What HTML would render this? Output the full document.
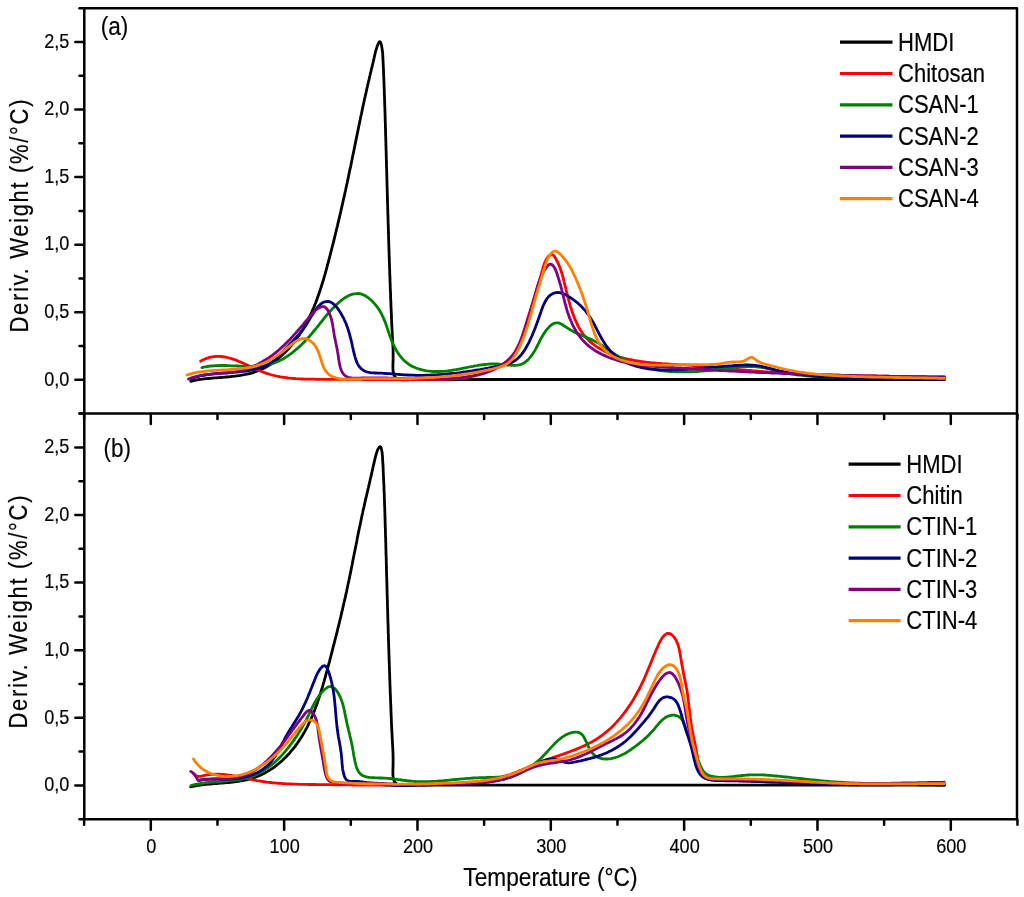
<!DOCTYPE html>
<html><head><meta charset="utf-8"><title>DTG curves</title>
<style>html,body{margin:0;padding:0;background:#fff;}svg{display:block;}text{font-family:"Liberation Sans",sans-serif;}</style>
</head><body>
<svg width="1024" height="897" viewBox="0 0 1024 897" font-family="Liberation Sans, sans-serif" fill="#000">
<rect width="1024" height="897" fill="#fff"/>
<path d="M190.8,381.3 L192.6,380.8 L194.5,380.4 L196.4,380.1 L198.3,379.7 L200.2,379.4 L202.1,379.2 L204.1,378.9 L206.0,378.7 L208.0,378.5 L210.0,378.3 L212.0,378.1 L214.1,377.9 L216.1,377.8 L218.1,377.6 L220.2,377.5 L222.2,377.3 L224.3,377.2 L226.3,377.0 L228.4,376.8 L230.4,376.6 L232.5,376.4 L234.5,376.2 L236.6,375.9 L238.6,375.7 L240.6,375.4 L242.6,375.0 L244.6,374.6 L246.6,374.2 L248.5,373.8 L250.5,373.3 L252.4,372.8 L254.3,372.2 L256.1,371.5 L258.0,370.8 L259.8,370.1 L261.6,369.3 L263.4,368.4 L265.2,367.5 L266.9,366.5 L268.6,365.5 L270.3,364.5 L271.9,363.4 L273.5,362.3 L275.1,361.1 L276.7,359.9 L278.3,358.6 L279.8,357.3 L281.3,356.0 L282.8,354.6 L284.2,353.3 L285.6,351.8 L287.0,350.4 L288.4,348.9 L289.7,347.4 L291.0,345.9 L292.3,344.4 L293.5,342.8 L294.7,341.2 L295.9,339.6 L297.1,338.0 L298.2,336.4 L299.4,334.8 L300.4,333.1 L301.5,331.4 L302.6,329.8 L303.6,328.1 L304.6,326.3 L305.5,324.6 L306.5,322.9 L307.4,321.1 L308.3,319.3 L309.2,317.6 L310.0,315.8 L310.9,314.0 L311.7,312.2 L312.5,310.3 L313.3,308.5 L314.1,306.7 L314.8,304.8 L315.6,303.0 L316.3,301.1 L317.0,299.2 L317.7,297.3 L318.3,295.4 L319.0,293.5 L319.7,291.6 L320.3,289.7 L320.9,287.8 L321.5,285.9 L322.1,284.0 L322.7,282.0 L323.3,280.1 L323.9,278.2 L324.4,276.2 L325.0,274.3 L325.5,272.3 L326.1,270.4 L326.6,268.4 L327.1,266.5 L327.7,264.5 L328.2,262.6 L328.7,260.6 L329.2,258.7 L329.7,256.7 L330.2,254.8 L330.7,252.8 L331.2,250.9 L331.7,248.9 L332.2,247.0 L332.7,245.0 L333.2,243.1 L333.7,241.1 L334.2,239.2 L334.6,237.2 L335.1,235.3 L335.6,233.4 L336.1,231.4 L336.5,229.5 L337.0,227.5 L337.5,225.6 L337.9,223.6 L338.4,221.7 L338.8,219.8 L339.3,217.8 L339.8,215.9 L340.2,213.9 L340.7,212.0 L341.1,210.1 L341.5,208.1 L342.0,206.2 L342.4,204.2 L342.9,202.3 L343.3,200.3 L343.7,198.4 L344.2,196.4 L344.6,194.5 L345.0,192.5 L345.5,190.6 L345.9,188.6 L346.3,186.7 L346.7,184.7 L347.2,182.8 L347.6,180.8 L348.0,178.9 L348.4,176.9 L348.8,175.0 L349.2,173.0 L349.6,171.1 L350.0,169.1 L350.5,167.1 L350.9,165.2 L351.3,163.2 L351.7,161.2 L352.1,159.3 L352.5,157.3 L352.9,155.3 L353.3,153.4 L353.7,151.4 L354.1,149.4 L354.5,147.5 L354.9,145.5 L355.3,143.5 L355.7,141.6 L356.1,139.6 L356.5,137.6 L356.9,135.7 L357.3,133.7 L357.7,131.7 L358.1,129.7 L358.5,127.8 L358.9,125.8 L359.3,123.8 L359.7,121.9 L360.1,119.9 L360.5,117.9 L360.9,116.0 L361.4,114.0 L361.8,112.0 L362.2,110.1 L362.6,108.1 L363.0,106.1 L363.5,104.2 L363.9,102.2 L364.3,100.3 L364.7,98.3 L365.2,96.3 L365.6,94.4 L366.1,92.4 L366.5,90.5 L366.9,88.5 L367.4,86.6 L367.8,84.6 L368.3,82.7 L368.7,80.8 L369.2,78.8 L369.6,76.9 L370.1,75.0 L370.5,73.0 L371.0,71.1 L371.4,69.2 L371.9,67.3 L372.4,65.4 L372.8,63.5 L373.3,61.5 L373.7,59.6 L374.2,57.6 L374.6,55.6 L375.1,53.5 L375.6,51.3 L376.3,49.1 L377.1,46.6 L378.0,44.3 L378.9,42.4 L379.8,41.6 L380.5,42.2 L381.1,43.9 L381.6,45.8 L381.9,47.8 L382.2,49.8 L382.5,51.8 L382.7,53.8 L382.8,55.9 L382.9,57.9 L383.0,59.9 L383.1,62.0 L383.2,64.0 L383.3,66.1 L383.4,68.1 L383.5,70.1 L383.6,72.2 L383.6,74.2 L383.7,76.2 L383.8,78.2 L383.9,80.3 L384.0,82.3 L384.0,84.3 L384.1,86.3 L384.2,88.3 L384.3,90.4 L384.3,92.4 L384.4,94.4 L384.5,96.4 L384.5,98.4 L384.6,100.4 L384.7,102.4 L384.7,104.4 L384.8,106.5 L384.9,108.5 L384.9,110.5 L385.0,112.5 L385.1,114.5 L385.1,116.5 L385.2,118.5 L385.2,120.5 L385.3,122.5 L385.4,124.5 L385.4,126.5 L385.5,128.5 L385.5,130.5 L385.6,132.5 L385.6,134.5 L385.7,136.5 L385.8,138.5 L385.8,140.5 L385.9,142.5 L385.9,144.5 L386.0,146.5 L386.0,148.5 L386.1,150.5 L386.2,152.5 L386.2,154.5 L386.3,156.5 L386.3,158.4 L386.4,160.4 L386.4,162.4 L386.5,164.4 L386.5,166.4 L386.6,168.4 L386.7,170.4 L386.7,172.4 L386.8,174.4 L386.8,176.4 L386.9,178.4 L386.9,180.4 L387.0,182.4 L387.0,184.4 L387.1,186.4 L387.2,188.4 L387.2,190.4 L387.3,192.4 L387.3,194.4 L387.4,196.4 L387.4,198.4 L387.5,200.4 L387.5,202.4 L387.6,204.4 L387.7,206.4 L387.7,208.4 L387.8,210.4 L387.8,212.4 L387.9,214.4 L388.0,216.4 L388.0,218.4 L388.1,220.4 L388.1,222.4 L388.2,224.4 L388.3,226.4 L388.3,228.4 L388.4,230.4 L388.4,232.4 L388.5,234.5 L388.6,236.5 L388.6,238.5 L388.7,240.5 L388.7,242.5 L388.8,244.5 L388.9,246.5 L388.9,248.5 L389.0,250.5 L389.1,252.5 L389.1,254.5 L389.2,256.5 L389.3,258.5 L389.3,260.5 L389.4,262.5 L389.5,264.6 L389.5,266.6 L389.6,268.6 L389.7,270.6 L389.7,272.6 L389.8,274.6 L389.9,276.6 L390.0,278.6 L390.0,280.6 L390.1,282.7 L390.2,284.7 L390.2,286.7 L390.3,288.7 L390.4,290.7 L390.5,292.7 L390.6,294.7 L390.6,296.8 L390.7,298.8 L390.8,300.8 L390.9,302.8 L390.9,304.8 L391.0,306.8 L391.1,308.8 L391.2,310.9 L391.3,312.9 L391.4,314.9 L391.4,316.9 L391.5,318.9 L391.6,320.8 L391.7,322.8 L391.8,324.8 L391.9,326.8 L392.0,328.7 L392.1,330.7 L392.2,332.6 L392.3,334.6 L392.4,336.5 L392.5,338.4 L392.6,340.3 L392.7,342.2 L392.8,344.1 L392.9,346.0 L393.0,347.9 L393.1,349.8 L393.1,351.8 L393.1,353.8 L393.1,355.9 L393.1,358.1 L393.1,360.3 L393.0,362.6 L392.9,364.9 L392.9,367.2 L393.0,369.4 L393.1,371.5 L393.5,373.4 L394.1,375.2 L394.9,376.7 L396.0,377.9 L397.4,378.7 L399.1,379.3 L400.9,379.6 L403.0,379.8 L405.1,379.8 L407.3,379.8 L409.5,379.7 L411.6,379.6 L413.7,379.5 L415.7,379.5 L417.7,379.5 L419.7,379.5 L421.6,379.5 L423.6,379.5 L425.6,379.5 L427.5,379.5 L429.5,379.5 L431.5,379.5 L433.5,379.5 L435.5,379.5 L437.5,379.5 L439.5,379.5 L441.5,379.5 L443.6,379.5 L445.6,379.5 L447.6,379.5 L449.6,379.5 L451.6,379.5 L453.6,379.5 L455.6,379.5 L457.6,379.5 L459.6,379.5 L461.6,379.5 L463.6,379.5 L465.6,379.5 L467.6,379.5 L469.6,379.5 L471.6,379.5 L473.6,379.5 L475.6,379.5 L477.6,379.5 L479.6,379.5 L481.6,379.5 L483.7,379.5 L485.7,379.5 L487.7,379.5 L489.7,379.5 L491.7,379.5 L493.7,379.5 L495.7,379.5 L497.7,379.5 L499.7,379.5 L501.7,379.5 L503.7,379.5 L505.7,379.5 L507.7,379.5 L509.7,379.5 L511.7,379.5 L513.7,379.5 L515.7,379.5 L517.7,379.5 L519.7,379.5 L521.7,379.5 L523.7,379.5 L525.7,379.5 L527.7,379.5 L529.7,379.5 L531.7,379.5 L533.7,379.5 L535.7,379.5 L537.7,379.5 L539.7,379.5 L541.7,379.5 L543.7,379.5 L545.8,379.5 L547.8,379.5 L549.8,379.5 L551.8,379.5 L553.8,379.5 L555.8,379.5 L557.8,379.5 L559.8,379.5 L561.8,379.5 L563.8,379.5 L565.8,379.5 L567.8,379.5 L569.8,379.5 L571.8,379.5 L573.8,379.5 L575.8,379.5 L577.8,379.5 L579.8,379.5 L581.8,379.5 L583.8,379.5 L585.8,379.5 L587.8,379.5 L589.8,379.5 L591.8,379.5 L593.8,379.5 L595.8,379.5 L597.8,379.5 L599.9,379.5 L601.9,379.5 L603.9,379.5 L605.9,379.5 L607.9,379.5 L609.9,379.5 L611.9,379.5 L613.9,379.5 L615.9,379.5 L617.9,379.5 L619.9,379.5 L621.9,379.5 L623.9,379.5 L625.9,379.5 L627.9,379.5 L629.9,379.5 L631.9,379.5 L633.9,379.5 L635.9,379.5 L637.9,379.5 L639.9,379.5 L641.9,379.5 L643.9,379.5 L645.9,379.5 L647.9,379.5 L650.0,379.5 L652.0,379.5 L654.0,379.5 L656.0,379.5 L658.0,379.5 L660.0,379.5 L662.0,379.5 L664.0,379.5 L666.0,379.5 L668.0,379.5 L670.0,379.5 L672.0,379.5 L674.0,379.5 L676.0,379.5 L678.0,379.5 L680.0,379.5 L682.0,379.5 L684.0,379.5 L686.0,379.5 L688.0,379.5 L690.0,379.5 L692.0,379.5 L694.0,379.5 L696.0,379.5 L698.0,379.5 L700.0,379.5 L702.1,379.5 L704.1,379.5 L706.1,379.5 L708.1,379.5 L710.1,379.5 L712.1,379.5 L714.1,379.5 L716.1,379.5 L718.1,379.5 L720.1,379.5 L722.1,379.5 L724.1,379.5 L726.1,379.5 L728.1,379.5 L730.1,379.5 L732.1,379.5 L734.1,379.5 L736.1,379.5 L738.1,379.5 L740.1,379.5 L742.1,379.5 L744.1,379.5 L746.1,379.5 L748.1,379.5 L750.1,379.5 L752.1,379.5 L754.1,379.5 L756.1,379.5 L758.2,379.5 L760.2,379.5 L762.2,379.5 L764.2,379.5 L766.2,379.5 L768.2,379.5 L770.2,379.5 L772.2,379.5 L774.2,379.5 L776.2,379.5 L778.2,379.5 L780.2,379.5 L782.2,379.5 L784.2,379.5 L786.2,379.5 L788.2,379.5 L790.2,379.5 L792.2,379.5 L794.2,379.5 L796.2,379.5 L798.2,379.5 L800.2,379.5 L802.2,379.5 L804.2,379.5 L806.2,379.5 L808.2,379.5 L810.2,379.5 L812.3,379.5 L814.3,379.5 L816.3,379.5 L818.3,379.5 L820.3,379.5 L822.3,379.5 L824.3,379.5 L826.3,379.5 L828.3,379.5 L830.3,379.5 L832.3,379.5 L834.3,379.5 L836.3,379.5 L838.3,379.5 L840.3,379.5 L842.3,379.5 L844.3,379.5 L846.3,379.5 L848.3,379.5 L850.3,379.5 L852.3,379.5 L854.3,379.5 L856.3,379.5 L858.3,379.5 L860.3,379.5 L862.3,379.5 L864.3,379.5 L866.4,379.5 L868.4,379.5 L870.4,379.5 L872.4,379.5 L874.4,379.5 L876.4,379.5 L878.4,379.5 L880.4,379.5 L882.4,379.5 L884.4,379.5 L886.4,379.5 L888.4,379.5 L890.4,379.5 L892.4,379.5 L894.4,379.5 L896.4,379.5 L898.4,379.5 L900.4,379.5 L902.4,379.5 L904.4,379.5 L906.4,379.5 L908.4,379.5 L910.4,379.5 L912.4,379.5 L914.4,379.5 L916.4,379.5 L918.5,379.5 L920.5,379.5 L922.5,379.5 L924.5,379.5 L926.5,379.5 L928.5,379.5 L930.5,379.5 L932.5,379.5 L934.5,379.5 L936.5,379.5 L938.5,379.5 L940.5,379.5 L942.5,379.5 L944.5,379.5" fill="none" stroke="#000000" stroke-width="2.8" stroke-linejoin="round" stroke-linecap="round"/>
<path d="M200.6,361.2 L202.6,360.1 L204.5,359.2 L206.5,358.4 L208.4,357.8 L210.3,357.2 L212.2,356.8 L214.1,356.6 L216.0,356.4 L217.9,356.4 L219.8,356.4 L221.7,356.5 L223.5,356.8 L225.4,357.1 L227.3,357.5 L229.1,358.0 L231.0,358.5 L232.8,359.1 L234.7,359.7 L236.5,360.4 L238.4,361.2 L240.2,361.9 L242.1,362.7 L243.9,363.6 L245.8,364.4 L247.6,365.3 L249.5,366.2 L251.4,367.0 L253.2,367.9 L255.1,368.8 L257.0,369.6 L258.9,370.4 L260.7,371.2 L262.6,371.9 L264.5,372.7 L266.5,373.3 L268.4,373.9 L270.3,374.5 L272.2,375.0 L274.2,375.5 L276.1,376.0 L278.1,376.4 L280.0,376.8 L282.0,377.1 L284.0,377.4 L286.0,377.7 L287.9,378.0 L289.9,378.2 L291.9,378.4 L293.9,378.5 L295.9,378.7 L297.9,378.8 L299.9,378.9 L301.9,379.0 L304.0,379.1 L306.0,379.1 L308.0,379.2 L310.0,379.2 L312.0,379.2 L314.0,379.2 L316.0,379.3 L318.1,379.3 L320.1,379.3 L322.1,379.3 L324.1,379.3 L326.1,379.3 L328.1,379.3 L330.2,379.3 L332.2,379.3 L334.2,379.3 L336.2,379.3 L338.2,379.3 L340.2,379.3 L342.2,379.3 L344.2,379.4 L346.2,379.4 L348.2,379.4 L350.2,379.4 L352.3,379.4 L354.3,379.4 L356.3,379.4 L358.3,379.4 L360.3,379.4 L362.3,379.5 L364.3,379.5 L366.3,379.5 L368.3,379.5 L370.3,379.5 L372.3,379.5 L374.3,379.5 L376.3,379.5 L378.3,379.6 L380.3,379.6 L382.3,379.6 L384.3,379.6 L386.3,379.6 L388.3,379.6 L390.3,379.6 L392.3,379.6 L394.4,379.6 L396.4,379.6 L398.4,379.7 L400.4,379.7 L402.4,379.7 L404.4,379.7 L406.4,379.7 L408.4,379.7 L410.4,379.7 L412.4,379.7 L414.4,379.7 L416.5,379.7 L418.5,379.7 L420.5,379.7 L422.5,379.7 L424.5,379.7 L426.5,379.7 L428.6,379.7 L430.6,379.7 L432.6,379.7 L434.6,379.6 L436.6,379.6 L438.7,379.6 L440.7,379.5 L442.7,379.5 L444.7,379.4 L446.7,379.3 L448.7,379.2 L450.8,379.1 L452.8,379.0 L454.8,378.8 L456.8,378.7 L458.8,378.5 L460.8,378.3 L462.7,378.0 L464.7,377.8 L466.7,377.5 L468.7,377.1 L470.6,376.8 L472.6,376.4 L474.5,376.0 L476.5,375.5 L478.4,375.0 L480.3,374.5 L482.3,373.9 L484.2,373.3 L486.1,372.6 L488.0,371.9 L489.8,371.2 L491.7,370.4 L493.5,369.5 L495.3,368.6 L497.1,367.7 L498.8,366.7 L500.6,365.7 L502.2,364.6 L503.8,363.4 L505.4,362.2 L506.9,361.0 L508.4,359.7 L509.8,358.3 L511.1,356.9 L512.4,355.4 L513.6,353.8 L514.7,352.2 L515.7,350.5 L516.7,348.8 L517.7,347.0 L518.6,345.2 L519.4,343.3 L520.2,341.5 L520.9,339.6 L521.6,337.6 L522.3,335.7 L523.0,333.7 L523.6,331.7 L524.3,329.8 L524.9,327.8 L525.5,325.8 L526.1,323.9 L526.7,321.9 L527.3,320.0 L527.9,318.1 L528.5,316.2 L529.1,314.2 L529.7,312.3 L530.3,310.4 L530.9,308.5 L531.5,306.6 L532.0,304.7 L532.6,302.9 L533.2,301.0 L533.8,299.1 L534.4,297.2 L534.9,295.3 L535.5,293.4 L536.1,291.5 L536.7,289.6 L537.2,287.7 L537.8,285.8 L538.4,283.9 L539.0,282.0 L539.5,280.0 L540.1,278.1 L540.7,276.1 L541.2,274.2 L541.8,272.2 L542.4,270.2 L542.9,268.2 L543.5,266.2 L544.1,264.3 L544.9,262.3 L545.7,260.5 L546.7,258.7 L547.9,257.0 L549.3,255.6 L550.8,254.6 L552.3,254.5 L553.6,255.5 L554.9,257.1 L556.0,259.1 L557.0,261.1 L558.0,263.0 L558.8,264.9 L559.6,266.7 L560.3,268.6 L560.9,270.4 L561.5,272.2 L562.1,274.1 L562.6,275.9 L563.1,277.7 L563.6,279.6 L564.0,281.5 L564.5,283.4 L565.0,285.3 L565.5,287.3 L565.9,289.3 L566.4,291.2 L566.9,293.2 L567.4,295.2 L567.9,297.2 L568.5,299.3 L569.0,301.3 L569.6,303.3 L570.1,305.3 L570.7,307.3 L571.4,309.3 L572.0,311.2 L572.7,313.2 L573.4,315.1 L574.1,317.1 L574.9,319.0 L575.7,320.8 L576.5,322.7 L577.4,324.5 L578.3,326.3 L579.2,328.0 L580.2,329.7 L581.3,331.3 L582.4,333.0 L583.5,334.5 L584.7,336.0 L586.0,337.5 L587.3,338.9 L588.6,340.3 L590.0,341.6 L591.5,342.8 L593.0,344.0 L594.5,345.2 L596.1,346.3 L597.7,347.4 L599.4,348.4 L601.1,349.4 L602.8,350.3 L604.6,351.2 L606.4,352.1 L608.2,352.9 L610.1,353.6 L611.9,354.4 L613.8,355.1 L615.8,355.7 L617.7,356.4 L619.7,357.0 L621.6,357.5 L623.6,358.1 L625.6,358.6 L627.6,359.0 L629.6,359.5 L631.7,359.9 L633.7,360.3 L635.7,360.7 L637.8,361.0 L639.8,361.3 L641.8,361.6 L643.8,361.9 L645.8,362.2 L647.8,362.4 L649.9,362.6 L651.9,362.8 L653.9,363.0 L655.9,363.2 L657.9,363.4 L659.8,363.5 L661.8,363.7 L663.8,363.8 L665.8,363.9 L667.8,364.0 L669.8,364.1 L671.8,364.3 L673.8,364.4 L675.7,364.5 L677.7,364.6 L679.7,364.7 L681.7,364.8 L683.7,364.9 L685.7,365.0 L687.6,365.1 L689.6,365.2 L691.6,365.3 L693.6,365.5 L695.6,365.6 L697.6,365.8 L699.6,365.9 L701.6,366.1 L703.6,366.2 L705.6,366.4 L707.6,366.6 L709.6,366.7 L711.6,366.9 L713.6,367.1 L715.6,367.3 L717.6,367.5 L719.6,367.7 L721.6,367.9 L723.6,368.1 L725.6,368.3 L727.6,368.5 L729.6,368.7 L731.6,368.9 L733.6,369.1 L735.6,369.2 L737.6,369.4 L739.6,369.6 L741.6,369.8 L743.7,370.0 L745.7,370.2 L747.7,370.4 L749.7,370.5 L751.7,370.7 L753.7,370.9 L755.7,371.0 L757.7,371.2 L759.7,371.4 L761.7,371.5 L763.7,371.7 L765.7,371.8 L767.7,371.9 L769.7,372.1 L771.8,372.2 L773.8,372.4 L775.8,372.5 L777.8,372.6 L779.8,372.7 L781.8,372.9 L783.8,373.0 L785.8,373.1 L787.8,373.2 L789.8,373.3 L791.8,373.4 L793.8,373.5 L795.8,373.6 L797.8,373.7 L799.8,373.8 L801.8,373.9 L803.9,374.0 L805.9,374.1 L807.9,374.2 L809.9,374.3 L811.9,374.4 L813.9,374.4 L815.9,374.5 L817.9,374.6 L819.9,374.7 L821.9,374.7 L823.9,374.8 L825.9,374.9 L827.9,374.9 L829.9,375.0 L831.9,375.1 L833.9,375.1 L835.9,375.2 L837.9,375.2 L840.0,375.3 L842.0,375.3 L844.0,375.4 L846.0,375.4 L848.0,375.5 L850.0,375.5 L852.0,375.6 L854.0,375.6 L856.0,375.7 L858.0,375.7 L860.0,375.8 L862.0,375.8 L864.0,375.8 L866.0,375.9 L868.0,375.9 L870.1,376.0 L872.1,376.0 L874.1,376.0 L876.1,376.1 L878.1,376.1 L880.1,376.1 L882.1,376.2 L884.1,376.2 L886.1,376.2 L888.1,376.2 L890.1,376.3 L892.1,376.3 L894.2,376.3 L896.2,376.4 L898.2,376.4 L900.2,376.4 L902.2,376.4 L904.2,376.5 L906.2,376.5 L908.2,376.5 L910.2,376.5 L912.2,376.6 L914.3,376.6 L916.3,376.6 L918.3,376.7 L920.3,376.7 L922.3,376.7 L924.3,376.7 L926.3,376.8 L928.3,376.8 L930.3,376.8 L932.4,376.8 L934.4,376.9 L936.4,376.9 L938.4,376.9 L940.4,377.0 L942.4,377.0 L944.4,377.0" fill="none" stroke="#ff0000" stroke-width="2.8" stroke-linejoin="round" stroke-linecap="round"/>
<path d="M201.9,367.6 L203.8,367.2 L205.7,366.8 L207.6,366.5 L209.5,366.2 L211.5,366.0 L213.4,365.8 L215.4,365.6 L217.4,365.6 L219.4,365.5 L221.4,365.5 L223.4,365.5 L225.4,365.5 L227.5,365.6 L229.5,365.7 L231.5,365.8 L233.6,365.8 L235.6,365.9 L237.6,366.0 L239.7,366.1 L241.7,366.2 L243.7,366.3 L245.8,366.4 L247.8,366.4 L249.8,366.4 L251.8,366.4 L253.8,366.4 L255.8,366.3 L257.8,366.2 L259.7,366.0 L261.7,365.8 L263.6,365.6 L265.6,365.3 L267.5,364.9 L269.4,364.4 L271.2,363.9 L273.1,363.4 L274.9,362.7 L276.7,362.0 L278.5,361.2 L280.3,360.3 L282.1,359.4 L283.8,358.5 L285.5,357.4 L287.2,356.3 L288.9,355.2 L290.5,354.0 L292.1,352.8 L293.7,351.5 L295.3,350.2 L296.9,348.9 L298.4,347.5 L300.0,346.1 L301.4,344.7 L302.9,343.2 L304.4,341.7 L305.8,340.2 L307.2,338.7 L308.6,337.2 L310.0,335.7 L311.3,334.1 L312.6,332.6 L313.9,331.0 L315.2,329.5 L316.4,328.0 L317.7,326.4 L318.9,324.9 L320.1,323.4 L321.3,321.9 L322.5,320.3 L323.7,318.8 L324.9,317.3 L326.1,315.8 L327.4,314.3 L328.7,312.8 L330.0,311.4 L331.3,309.9 L332.7,308.4 L334.2,306.9 L335.6,305.5 L337.2,304.0 L338.7,302.6 L340.4,301.2 L342.0,299.9 L343.7,298.7 L345.4,297.5 L347.2,296.5 L349.0,295.6 L350.7,294.8 L352.6,294.2 L354.4,293.8 L356.2,293.6 L358.0,293.5 L359.9,293.7 L361.7,294.2 L363.5,294.9 L365.3,295.8 L367.0,296.9 L368.8,298.2 L370.4,299.6 L372.0,301.1 L373.5,302.6 L374.9,304.1 L376.2,305.7 L377.4,307.3 L378.6,309.0 L379.6,310.6 L380.6,312.3 L381.6,314.0 L382.4,315.8 L383.3,317.6 L384.0,319.4 L384.8,321.2 L385.5,323.1 L386.2,325.0 L386.8,326.9 L387.5,328.8 L388.1,330.8 L388.8,332.7 L389.4,334.6 L390.1,336.6 L390.8,338.5 L391.5,340.4 L392.3,342.3 L393.1,344.1 L394.0,345.9 L394.9,347.7 L395.8,349.5 L396.9,351.2 L397.9,352.9 L399.0,354.5 L400.2,356.1 L401.5,357.6 L402.8,359.1 L404.1,360.5 L405.6,361.8 L407.1,363.0 L408.6,364.1 L410.2,365.2 L411.9,366.2 L413.7,367.0 L415.5,367.8 L417.4,368.5 L419.3,369.1 L421.3,369.7 L423.3,370.2 L425.3,370.6 L427.3,370.9 L429.4,371.1 L431.4,371.3 L433.5,371.5 L435.6,371.5 L437.6,371.5 L439.7,371.5 L441.7,371.4 L443.8,371.3 L445.8,371.1 L447.8,370.9 L449.8,370.6 L451.7,370.3 L453.7,370.0 L455.7,369.7 L457.6,369.3 L459.6,369.0 L461.5,368.6 L463.5,368.2 L465.4,367.8 L467.4,367.4 L469.3,367.0 L471.2,366.6 L473.2,366.3 L475.1,365.9 L477.1,365.6 L479.0,365.2 L481.0,365.0 L483.0,364.7 L484.9,364.5 L486.9,364.3 L488.9,364.1 L490.9,364.0 L492.9,364.0 L494.9,364.0 L497.0,364.0 L499.0,364.1 L501.1,364.3 L503.1,364.5 L505.2,364.8 L507.3,365.0 L509.3,365.2 L511.4,365.4 L513.4,365.4 L515.3,365.4 L517.2,365.2 L519.1,364.9 L520.9,364.4 L522.6,363.7 L524.3,362.8 L525.8,361.6 L527.3,360.4 L528.8,358.9 L530.1,357.4 L531.4,355.7 L532.6,354.0 L533.8,352.2 L534.9,350.4 L535.9,348.6 L536.8,346.8 L537.7,345.0 L538.6,343.3 L539.5,341.5 L540.4,339.7 L541.3,338.0 L542.3,336.3 L543.3,334.5 L544.4,332.9 L545.5,331.2 L546.8,329.5 L548.3,327.9 L549.8,326.3 L551.4,324.9 L553.1,323.8 L554.8,323.1 L556.6,322.8 L558.3,322.9 L560.0,323.4 L561.7,324.3 L563.4,325.3 L565.1,326.5 L566.9,327.7 L568.6,328.8 L570.4,329.9 L572.2,330.9 L574.0,331.9 L575.8,332.8 L577.6,333.6 L579.4,334.4 L581.2,335.2 L583.1,336.0 L584.9,336.8 L586.7,337.5 L588.5,338.3 L590.3,339.1 L592.1,339.9 L593.8,340.8 L595.6,341.7 L597.3,342.6 L599.1,343.6 L600.8,344.7 L602.5,345.8 L604.1,346.9 L605.8,348.0 L607.5,349.1 L609.2,350.3 L610.8,351.5 L612.5,352.6 L614.2,353.8 L615.9,354.9 L617.6,356.0 L619.3,357.1 L621.0,358.1 L622.8,359.1 L624.5,360.0 L626.3,360.9 L628.1,361.8 L629.9,362.6 L631.8,363.4 L633.6,364.1 L635.5,364.8 L637.3,365.5 L639.2,366.1 L641.1,366.6 L643.0,367.2 L645.0,367.7 L646.9,368.1 L648.9,368.6 L650.8,369.0 L652.8,369.4 L654.7,369.7 L656.7,370.0 L658.7,370.3 L660.7,370.6 L662.7,370.8 L664.7,371.0 L666.7,371.2 L668.7,371.4 L670.7,371.5 L672.7,371.6 L674.7,371.7 L676.7,371.8 L678.7,371.9 L680.7,371.9 L682.7,371.9 L684.7,371.9 L686.7,371.9 L688.8,371.8 L690.8,371.8 L692.8,371.7 L694.8,371.6 L696.8,371.5 L698.8,371.4 L700.8,371.2 L702.8,371.1 L704.8,370.9 L706.8,370.7 L708.8,370.5 L710.8,370.3 L712.8,370.0 L714.8,369.8 L716.8,369.5 L718.8,369.3 L720.8,369.0 L722.8,368.7 L724.8,368.5 L726.8,368.2 L728.7,367.9 L730.7,367.7 L732.7,367.5 L734.7,367.3 L736.7,367.1 L738.7,366.9 L740.7,366.8 L742.7,366.6 L744.7,366.6 L746.7,366.5 L748.7,366.5 L750.7,366.5 L752.6,366.6 L754.6,366.7 L756.6,366.9 L758.6,367.0 L760.6,367.3 L762.6,367.6 L764.6,367.9 L766.5,368.3 L768.5,368.7 L770.4,369.1 L772.4,369.6 L774.4,370.1 L776.3,370.6 L778.3,371.1 L780.2,371.6 L782.2,372.0 L784.1,372.5 L786.1,373.0 L788.1,373.4 L790.0,373.8 L792.0,374.1 L794.0,374.4 L796.0,374.7 L798.0,375.0 L799.9,375.2 L801.9,375.4 L803.9,375.6 L805.9,375.8 L807.9,376.0 L809.9,376.1 L811.9,376.3 L813.9,376.4 L815.9,376.5 L817.9,376.7 L820.0,376.8 L822.0,376.9 L824.0,377.0 L826.0,377.1 L828.0,377.2 L830.0,377.2 L832.0,377.3 L834.0,377.4 L836.0,377.5 L838.0,377.5 L840.0,377.6 L842.0,377.6 L844.0,377.7 L846.0,377.7 L848.0,377.8 L850.0,377.8 L852.0,377.9 L854.1,377.9 L856.1,377.9 L858.1,378.0 L860.1,378.0 L862.1,378.0 L864.1,378.1 L866.1,378.1 L868.1,378.1 L870.1,378.1 L872.1,378.2 L874.1,378.2 L876.1,378.2 L878.1,378.2 L880.2,378.2 L882.2,378.3 L884.2,378.3 L886.2,378.3 L888.2,378.3 L890.2,378.3 L892.2,378.3 L894.2,378.3 L896.2,378.4 L898.2,378.4 L900.2,378.4 L902.2,378.4 L904.2,378.4 L906.3,378.4 L908.3,378.4 L910.3,378.4 L912.3,378.5 L914.3,378.5 L916.3,378.5 L918.3,378.5 L920.3,378.5 L922.3,378.5 L924.3,378.6 L926.3,378.6 L928.3,378.6 L930.3,378.6 L932.4,378.7 L934.4,378.7 L936.4,378.7 L938.4,378.7 L940.4,378.8 L942.4,378.8 L944.4,378.9" fill="none" stroke="#008000" stroke-width="2.8" stroke-linejoin="round" stroke-linecap="round"/>
<path d="M189.9,379.1 L191.8,378.4 L193.7,377.8 L195.6,377.2 L197.5,376.6 L199.5,376.1 L201.4,375.7 L203.4,375.3 L205.3,375.0 L207.3,374.6 L209.2,374.4 L211.2,374.1 L213.2,373.9 L215.2,373.7 L217.2,373.5 L219.2,373.3 L221.2,373.2 L223.2,373.0 L225.2,372.9 L227.2,372.8 L229.2,372.6 L231.2,372.5 L233.2,372.3 L235.2,372.2 L237.2,372.0 L239.2,371.8 L241.2,371.6 L243.2,371.4 L245.2,371.1 L247.2,370.8 L249.2,370.5 L251.1,370.1 L253.1,369.7 L255.1,369.2 L257.1,368.7 L259.0,368.1 L261.0,367.5 L262.9,366.8 L264.7,366.0 L266.6,365.2 L268.3,364.3 L270.1,363.3 L271.7,362.2 L273.3,361.0 L274.9,359.8 L276.3,358.5 L277.8,357.1 L279.1,355.7 L280.5,354.2 L281.9,352.7 L283.2,351.2 L284.5,349.7 L285.9,348.2 L287.3,346.7 L288.7,345.3 L290.1,343.8 L291.5,342.4 L292.9,340.9 L294.2,339.5 L295.6,338.0 L297.0,336.5 L298.3,335.0 L299.6,333.5 L300.9,332.0 L302.2,330.5 L303.4,328.9 L304.5,327.3 L305.7,325.7 L306.7,324.0 L307.8,322.3 L308.8,320.6 L309.9,318.8 L310.9,317.1 L312.0,315.3 L313.1,313.5 L314.2,311.8 L315.4,310.0 L316.7,308.3 L318.0,306.7 L319.5,305.2 L320.9,303.9 L322.5,302.8 L324.1,302.0 L325.8,301.6 L327.5,301.4 L329.2,301.7 L330.8,302.2 L332.4,303.1 L333.9,304.3 L335.3,305.7 L336.7,307.2 L338.0,308.9 L339.2,310.7 L340.4,312.5 L341.5,314.4 L342.5,316.2 L343.5,318.0 L344.3,319.8 L345.2,321.7 L346.0,323.5 L346.7,325.4 L347.4,327.3 L348.0,329.1 L348.6,331.0 L349.2,332.9 L349.7,334.8 L350.2,336.8 L350.7,338.7 L351.2,340.7 L351.7,342.6 L352.1,344.6 L352.5,346.6 L353.0,348.6 L353.4,350.6 L353.9,352.6 L354.4,354.6 L354.9,356.6 L355.5,358.6 L356.2,360.5 L356.9,362.4 L357.7,364.1 L358.7,365.8 L359.9,367.3 L361.1,368.6 L362.5,369.8 L364.1,370.7 L365.7,371.5 L367.5,372.1 L369.4,372.5 L371.4,372.8 L373.5,372.9 L375.5,373.0 L377.6,373.1 L379.7,373.1 L381.8,373.2 L383.9,373.3 L385.9,373.5 L387.9,373.6 L390.0,373.7 L392.0,373.9 L394.0,374.0 L396.0,374.2 L398.0,374.3 L400.0,374.5 L402.0,374.6 L404.0,374.8 L406.0,374.9 L407.9,375.0 L409.9,375.1 L411.9,375.2 L413.9,375.2 L415.9,375.3 L417.9,375.3 L419.9,375.3 L421.9,375.3 L423.9,375.3 L425.9,375.2 L427.9,375.2 L429.9,375.1 L431.9,375.0 L434.0,374.9 L436.0,374.8 L438.0,374.7 L440.0,374.6 L442.0,374.4 L444.0,374.3 L446.0,374.1 L448.0,373.9 L450.0,373.7 L452.0,373.5 L454.0,373.3 L456.0,373.1 L458.0,372.8 L460.0,372.6 L462.0,372.3 L464.0,372.0 L465.9,371.8 L467.9,371.5 L469.9,371.2 L471.9,370.9 L473.9,370.5 L475.8,370.2 L477.8,369.9 L479.8,369.6 L481.8,369.2 L483.7,368.9 L485.7,368.5 L487.7,368.2 L489.7,367.8 L491.7,367.4 L493.6,367.1 L495.6,366.7 L497.6,366.3 L499.6,365.9 L501.6,365.5 L503.6,365.1 L505.5,364.6 L507.4,364.1 L509.3,363.4 L511.1,362.7 L512.9,361.9 L514.6,360.9 L516.2,359.8 L517.7,358.5 L519.1,357.1 L520.5,355.7 L521.8,354.1 L523.0,352.4 L524.2,350.7 L525.3,348.9 L526.4,347.1 L527.4,345.2 L528.4,343.4 L529.3,341.6 L530.1,339.8 L531.0,338.0 L531.8,336.2 L532.6,334.4 L533.3,332.6 L534.0,330.9 L534.8,329.1 L535.4,327.3 L536.1,325.5 L536.8,323.6 L537.5,321.8 L538.1,319.9 L538.8,318.0 L539.5,316.0 L540.2,314.0 L540.9,312.0 L541.6,309.9 L542.4,307.8 L543.2,305.8 L544.1,303.8 L545.0,302.0 L546.0,300.2 L547.1,298.5 L548.3,297.0 L549.6,295.7 L551.1,294.6 L552.6,293.7 L554.3,293.0 L556.0,292.6 L557.8,292.5 L559.6,292.7 L561.4,293.1 L563.3,293.8 L565.1,294.6 L567.0,295.6 L568.8,296.6 L570.5,297.7 L572.3,298.9 L573.9,300.1 L575.6,301.3 L577.2,302.6 L578.7,304.0 L580.2,305.3 L581.6,306.7 L583.0,308.2 L584.4,309.7 L585.7,311.2 L586.9,312.8 L588.1,314.4 L589.3,316.0 L590.4,317.7 L591.4,319.4 L592.4,321.1 L593.4,322.8 L594.4,324.5 L595.3,326.3 L596.2,328.1 L597.1,329.9 L598.0,331.6 L598.9,333.4 L599.9,335.2 L600.8,336.9 L601.8,338.7 L602.8,340.4 L603.8,342.1 L604.9,343.8 L606.1,345.5 L607.3,347.1 L608.5,348.7 L609.9,350.3 L611.2,351.8 L612.7,353.2 L614.2,354.6 L615.7,356.0 L617.3,357.2 L618.9,358.4 L620.6,359.5 L622.3,360.5 L624.0,361.5 L625.8,362.3 L627.6,363.2 L629.4,363.9 L631.3,364.6 L633.1,365.2 L635.0,365.8 L636.9,366.4 L638.8,366.9 L640.7,367.3 L642.7,367.8 L644.6,368.1 L646.6,368.5 L648.5,368.8 L650.5,369.0 L652.5,369.2 L654.5,369.4 L656.5,369.6 L658.5,369.7 L660.5,369.8 L662.5,369.9 L664.6,369.9 L666.6,370.0 L668.6,370.0 L670.6,370.0 L672.7,369.9 L674.7,369.9 L676.7,369.8 L678.8,369.7 L680.8,369.6 L682.8,369.5 L684.8,369.4 L686.8,369.3 L688.8,369.1 L690.8,369.0 L692.8,368.9 L694.8,368.7 L696.8,368.6 L698.8,368.4 L700.8,368.2 L702.8,368.1 L704.8,367.9 L706.8,367.7 L708.8,367.6 L710.8,367.4 L712.7,367.2 L714.7,367.1 L716.7,366.9 L718.7,366.7 L720.7,366.6 L722.7,366.4 L724.7,366.2 L726.7,366.1 L728.7,365.9 L730.7,365.8 L732.7,365.7 L734.7,365.5 L736.7,365.4 L738.7,365.3 L740.7,365.2 L742.8,365.1 L744.8,365.0 L746.8,365.0 L748.8,365.0 L750.9,365.1 L752.9,365.2 L754.9,365.3 L756.8,365.6 L758.8,365.9 L760.8,366.2 L762.7,366.7 L764.7,367.1 L766.6,367.6 L768.5,368.1 L770.5,368.6 L772.4,369.1 L774.4,369.6 L776.3,370.1 L778.3,370.5 L780.2,371.0 L782.2,371.4 L784.2,371.8 L786.1,372.2 L788.1,372.5 L790.1,372.9 L792.1,373.2 L794.0,373.5 L796.0,373.8 L798.0,374.1 L800.0,374.4 L802.0,374.7 L804.0,374.9 L806.0,375.2 L808.0,375.4 L810.0,375.6 L812.0,375.8 L814.0,376.0 L816.0,376.2 L818.0,376.3 L820.0,376.5 L822.0,376.7 L824.0,376.8 L826.0,376.9 L828.0,377.1 L830.0,377.2 L832.0,377.3 L834.0,377.4 L836.0,377.5 L838.0,377.6 L840.0,377.7 L842.0,377.7 L844.0,377.8 L846.0,377.9 L848.0,377.9 L850.0,378.0 L852.0,378.0 L854.0,378.1 L856.0,378.1 L858.1,378.2 L860.1,378.2 L862.1,378.3 L864.1,378.3 L866.1,378.3 L868.1,378.3 L870.1,378.4 L872.1,378.4 L874.1,378.4 L876.1,378.4 L878.1,378.4 L880.1,378.5 L882.1,378.5 L884.2,378.5 L886.2,378.5 L888.2,378.5 L890.2,378.5 L892.2,378.5 L894.2,378.5 L896.2,378.5 L898.2,378.5 L900.2,378.6 L902.2,378.6 L904.2,378.6 L906.3,378.6 L908.3,378.6 L910.3,378.6 L912.3,378.6 L914.3,378.6 L916.3,378.6 L918.3,378.7 L920.3,378.7 L922.3,378.7 L924.3,378.7 L926.3,378.7 L928.3,378.8 L930.3,378.8 L932.4,378.8 L934.4,378.9 L936.4,378.9 L938.4,379.0 L940.4,379.0 L942.4,379.1 L944.4,379.1" fill="none" stroke="#000080" stroke-width="2.8" stroke-linejoin="round" stroke-linecap="round"/>
<path d="M188.5,379.0 L190.4,378.3 L192.3,377.6 L194.2,377.0 L196.2,376.5 L198.1,376.1 L200.1,375.7 L202.1,375.3 L204.0,375.0 L206.0,374.7 L208.0,374.5 L210.0,374.3 L212.0,374.1 L214.0,373.9 L216.0,373.8 L217.9,373.6 L219.9,373.5 L221.9,373.3 L223.9,373.1 L225.9,373.0 L227.9,372.8 L229.9,372.5 L231.9,372.3 L233.8,372.0 L235.8,371.6 L237.8,371.2 L239.7,370.8 L241.7,370.3 L243.6,369.8 L245.6,369.2 L247.5,368.5 L249.4,367.8 L251.3,367.1 L253.1,366.3 L255.0,365.5 L256.8,364.7 L258.6,363.8 L260.4,362.8 L262.2,361.8 L263.9,360.8 L265.6,359.8 L267.3,358.7 L269.0,357.6 L270.6,356.5 L272.2,355.3 L273.8,354.1 L275.4,352.9 L276.9,351.6 L278.4,350.4 L279.9,349.1 L281.4,347.7 L282.8,346.4 L284.3,345.0 L285.7,343.6 L287.1,342.2 L288.5,340.8 L289.9,339.4 L291.3,337.9 L292.7,336.4 L294.0,334.9 L295.4,333.4 L296.7,331.9 L298.0,330.4 L299.3,328.9 L300.7,327.3 L302.0,325.8 L303.3,324.3 L304.6,322.7 L305.9,321.1 L307.2,319.6 L308.5,318.0 L309.8,316.4 L311.1,314.9 L312.5,313.3 L313.9,311.9 L315.3,310.5 L316.8,309.3 L318.4,308.2 L320.1,307.3 L322.0,306.7 L323.7,306.6 L325.2,307.3 L326.6,308.6 L327.8,310.2 L328.8,312.1 L329.7,314.2 L330.5,316.2 L331.1,318.2 L331.6,320.2 L332.1,322.1 L332.5,324.0 L332.8,325.9 L333.1,327.9 L333.5,329.9 L333.8,331.9 L334.1,333.9 L334.4,335.9 L334.8,337.9 L335.2,339.9 L335.6,341.8 L336.0,343.7 L336.4,345.7 L336.8,347.6 L337.2,349.5 L337.5,351.5 L337.9,353.5 L338.2,355.5 L338.5,357.6 L338.7,359.6 L339.1,361.6 L339.4,363.7 L339.9,365.7 L340.4,367.6 L341.0,369.5 L341.8,371.3 L342.7,373.0 L343.8,374.4 L345.0,375.6 L346.5,376.6 L348.1,377.3 L349.9,377.7 L351.8,378.0 L353.7,378.1 L355.8,378.1 L357.9,378.1 L360.0,378.1 L362.1,378.0 L364.2,378.0 L366.3,377.9 L368.4,377.9 L370.4,377.9 L372.5,377.9 L374.5,377.9 L376.6,377.9 L378.6,377.9 L380.6,377.9 L382.6,378.0 L384.6,378.0 L386.6,378.0 L388.6,378.1 L390.6,378.1 L392.6,378.2 L394.6,378.2 L396.6,378.3 L398.6,378.3 L400.6,378.4 L402.6,378.4 L404.6,378.5 L406.5,378.5 L408.5,378.6 L410.5,378.6 L412.5,378.7 L414.5,378.7 L416.5,378.8 L418.5,378.8 L420.5,378.9 L422.5,378.9 L424.5,378.9 L426.5,379.0 L428.5,379.0 L430.5,379.0 L432.5,379.0 L434.5,379.0 L436.5,379.0 L438.5,379.0 L440.6,378.9 L442.6,378.9 L444.6,378.8 L446.6,378.7 L448.6,378.6 L450.6,378.5 L452.6,378.3 L454.7,378.2 L456.7,378.0 L458.7,377.8 L460.7,377.6 L462.7,377.4 L464.7,377.1 L466.6,376.8 L468.6,376.5 L470.6,376.1 L472.6,375.8 L474.6,375.3 L476.5,374.9 L478.5,374.5 L480.4,374.0 L482.4,373.4 L484.3,372.9 L486.2,372.3 L488.1,371.6 L490.0,370.9 L491.9,370.2 L493.7,369.4 L495.5,368.6 L497.2,367.7 L499.0,366.8 L500.6,365.8 L502.3,364.8 L503.9,363.7 L505.4,362.6 L506.9,361.4 L508.4,360.1 L509.8,358.7 L511.1,357.3 L512.4,355.8 L513.6,354.3 L514.7,352.7 L515.8,351.0 L516.8,349.2 L517.7,347.4 L518.6,345.6 L519.5,343.7 L520.3,341.8 L521.1,339.8 L521.8,337.9 L522.5,335.9 L523.2,333.9 L523.9,331.9 L524.5,329.9 L525.2,328.0 L525.8,326.0 L526.4,324.1 L527.0,322.1 L527.6,320.2 L528.2,318.4 L528.8,316.5 L529.4,314.6 L529.9,312.8 L530.5,310.9 L531.1,309.1 L531.6,307.2 L532.2,305.3 L532.8,303.4 L533.3,301.6 L533.8,299.6 L534.4,297.7 L534.9,295.8 L535.4,293.8 L536.0,291.8 L536.5,289.9 L537.1,287.9 L537.7,285.9 L538.3,284.0 L539.0,282.1 L539.7,280.1 L540.5,278.3 L541.3,276.4 L542.1,274.6 L543.0,272.8 L544.0,271.0 L545.1,269.3 L546.2,267.7 L547.4,266.1 L548.7,264.7 L550.1,264.1 L551.5,264.4 L552.9,265.6 L554.2,267.2 L555.2,269.0 L556.0,271.1 L556.8,273.1 L557.5,275.2 L558.1,277.1 L558.7,279.1 L559.3,281.0 L559.8,282.8 L560.4,284.7 L560.9,286.6 L561.4,288.5 L561.9,290.4 L562.3,292.4 L562.8,294.3 L563.3,296.2 L563.8,298.2 L564.3,300.2 L564.8,302.1 L565.3,304.1 L565.8,306.0 L566.4,308.0 L566.9,309.9 L567.5,311.9 L568.2,313.8 L568.8,315.7 L569.5,317.6 L570.3,319.5 L571.1,321.3 L571.9,323.2 L572.7,325.0 L573.6,326.8 L574.6,328.5 L575.6,330.2 L576.6,331.9 L577.7,333.6 L578.8,335.2 L580.0,336.8 L581.2,338.4 L582.5,339.9 L583.8,341.3 L585.2,342.7 L586.6,344.1 L588.1,345.4 L589.6,346.7 L591.2,347.9 L592.9,349.0 L594.5,350.2 L596.2,351.2 L598.0,352.3 L599.8,353.2 L601.6,354.2 L603.4,355.1 L605.3,355.9 L607.1,356.7 L609.0,357.5 L610.9,358.2 L612.8,358.9 L614.8,359.5 L616.7,360.1 L618.6,360.7 L620.5,361.3 L622.5,361.8 L624.4,362.2 L626.4,362.7 L628.3,363.1 L630.3,363.5 L632.2,363.8 L634.2,364.2 L636.2,364.5 L638.1,364.8 L640.1,365.0 L642.1,365.3 L644.1,365.5 L646.1,365.7 L648.0,365.9 L650.0,366.1 L652.0,366.2 L654.0,366.4 L656.0,366.5 L658.0,366.7 L660.0,366.8 L662.0,366.9 L664.0,367.1 L666.0,367.2 L668.0,367.3 L670.0,367.4 L672.0,367.5 L674.0,367.7 L676.0,367.8 L678.0,367.9 L680.0,368.0 L682.0,368.2 L683.9,368.3 L685.9,368.4 L687.9,368.5 L689.9,368.7 L691.9,368.8 L693.9,368.9 L695.9,369.1 L697.9,369.2 L699.9,369.3 L701.9,369.4 L703.9,369.6 L705.9,369.7 L707.9,369.8 L709.9,369.9 L711.9,370.0 L713.9,370.2 L715.9,370.3 L717.9,370.4 L719.9,370.5 L721.9,370.6 L723.9,370.7 L725.9,370.8 L727.9,370.9 L729.9,371.0 L731.9,371.1 L733.9,371.2 L735.9,371.3 L737.9,371.4 L739.9,371.5 L741.9,371.6 L743.9,371.7 L745.9,371.8 L747.9,371.9 L749.9,372.0 L751.9,372.1 L753.9,372.2 L755.9,372.3 L757.9,372.4 L759.9,372.5 L761.9,372.6 L764.0,372.6 L766.0,372.7 L768.0,372.8 L770.0,372.9 L772.0,373.0 L774.0,373.1 L776.0,373.1 L778.0,373.2 L780.0,373.3 L782.0,373.4 L784.0,373.5 L786.0,373.5 L788.0,373.6 L790.0,373.7 L792.0,373.8 L794.0,373.8 L796.0,373.9 L798.0,374.0 L800.0,374.0 L802.0,374.1 L804.0,374.2 L806.0,374.2 L808.0,374.3 L810.0,374.4 L812.0,374.4 L814.1,374.5 L816.1,374.6 L818.1,374.6 L820.1,374.7 L822.1,374.7 L824.1,374.8 L826.1,374.9 L828.1,374.9 L830.1,375.0 L832.1,375.0 L834.1,375.1 L836.1,375.1 L838.1,375.2 L840.1,375.2 L842.1,375.3 L844.1,375.3 L846.1,375.4 L848.1,375.4 L850.1,375.5 L852.1,375.5 L854.1,375.6 L856.2,375.6 L858.2,375.7 L860.2,375.7 L862.2,375.7 L864.2,375.8 L866.2,375.8 L868.2,375.9 L870.2,375.9 L872.2,376.0 L874.2,376.0 L876.2,376.0 L878.2,376.1 L880.2,376.1 L882.2,376.1 L884.2,376.2 L886.2,376.2 L888.2,376.2 L890.2,376.3 L892.3,376.3 L894.3,376.3 L896.3,376.4 L898.3,376.4 L900.3,376.4 L902.3,376.5 L904.3,376.5 L906.3,376.5 L908.3,376.5 L910.3,376.6 L912.3,376.6 L914.3,376.6 L916.3,376.6 L918.3,376.7 L920.3,376.7 L922.3,376.7 L924.3,376.7 L926.4,376.7 L928.4,376.8 L930.4,376.8 L932.4,376.8 L934.4,376.8 L936.4,376.8 L938.4,376.9 L940.4,376.9 L942.4,376.9 L944.4,376.9" fill="none" stroke="#800080" stroke-width="2.8" stroke-linejoin="round" stroke-linecap="round"/>
<path d="M187.0,375.0 L188.9,374.4 L190.8,373.9 L192.7,373.4 L194.6,372.9 L196.5,372.5 L198.4,372.2 L200.4,371.9 L202.4,371.6 L204.4,371.3 L206.3,371.1 L208.3,370.9 L210.4,370.7 L212.4,370.6 L214.4,370.4 L216.4,370.3 L218.5,370.2 L220.5,370.1 L222.5,370.0 L224.6,369.9 L226.6,369.8 L228.6,369.6 L230.7,369.5 L232.7,369.4 L234.7,369.2 L236.7,369.1 L238.7,368.9 L240.7,368.7 L242.7,368.4 L244.7,368.2 L246.7,367.9 L248.6,367.5 L250.6,367.2 L252.5,366.8 L254.4,366.3 L256.3,365.8 L258.2,365.2 L260.0,364.6 L261.9,363.9 L263.7,363.2 L265.5,362.4 L267.2,361.5 L269.0,360.6 L270.7,359.6 L272.4,358.6 L274.1,357.5 L275.8,356.4 L277.5,355.3 L279.1,354.1 L280.8,352.9 L282.4,351.6 L284.1,350.3 L285.8,349.0 L287.4,347.7 L289.1,346.4 L290.7,345.1 L292.4,343.8 L294.1,342.5 L295.8,341.4 L297.5,340.4 L299.2,339.6 L301.0,339.0 L302.7,338.7 L304.5,338.7 L306.3,339.0 L308.0,339.6 L309.7,340.5 L311.3,341.7 L312.8,343.0 L314.2,344.5 L315.4,346.2 L316.5,347.9 L317.4,349.8 L318.3,351.7 L319.0,353.7 L319.7,355.7 L320.4,357.8 L321.0,359.8 L321.7,361.8 L322.3,363.8 L323.0,365.7 L323.8,367.6 L324.7,369.3 L325.7,370.9 L326.8,372.4 L328.1,373.7 L329.5,374.9 L331.0,375.9 L332.7,376.7 L334.5,377.4 L336.3,378.0 L338.3,378.4 L340.2,378.8 L342.2,379.0 L344.2,379.1 L346.2,379.1 L348.2,379.1 L350.3,379.1 L352.3,379.0 L354.4,378.9 L356.4,378.9 L358.4,378.8 L360.5,378.8 L362.5,378.8 L364.5,378.7 L366.5,378.7 L368.5,378.7 L370.5,378.7 L372.6,378.7 L374.6,378.7 L376.6,378.7 L378.6,378.7 L380.6,378.7 L382.6,378.7 L384.6,378.7 L386.6,378.7 L388.6,378.7 L390.6,378.7 L392.6,378.7 L394.6,378.7 L396.6,378.7 L398.6,378.6 L400.6,378.6 L402.6,378.6 L404.6,378.6 L406.6,378.5 L408.6,378.5 L410.6,378.5 L412.6,378.4 L414.6,378.3 L416.6,378.3 L418.7,378.2 L420.7,378.1 L422.7,378.0 L424.7,377.9 L426.7,377.8 L428.7,377.7 L430.7,377.6 L432.7,377.5 L434.7,377.4 L436.7,377.2 L438.7,377.1 L440.7,376.9 L442.7,376.7 L444.7,376.5 L446.7,376.4 L448.7,376.2 L450.7,376.0 L452.7,375.7 L454.7,375.5 L456.7,375.3 L458.7,375.0 L460.7,374.8 L462.7,374.5 L464.7,374.2 L466.6,373.9 L468.6,373.6 L470.6,373.3 L472.6,373.0 L474.5,372.6 L476.5,372.3 L478.5,371.9 L480.4,371.5 L482.4,371.1 L484.4,370.7 L486.4,370.3 L488.3,369.9 L490.3,369.4 L492.3,369.0 L494.2,368.5 L496.2,368.0 L498.2,367.5 L500.1,366.9 L502.0,366.3 L503.9,365.5 L505.6,364.7 L507.3,363.7 L508.8,362.6 L510.3,361.3 L511.6,359.9 L512.9,358.4 L514.1,356.8 L515.2,355.1 L516.3,353.3 L517.2,351.5 L518.2,349.7 L519.1,347.9 L520.0,346.0 L520.8,344.1 L521.6,342.2 L522.4,340.4 L523.1,338.5 L523.9,336.6 L524.6,334.7 L525.2,332.8 L525.9,330.9 L526.5,329.0 L527.2,327.1 L527.8,325.2 L528.4,323.3 L528.9,321.4 L529.5,319.4 L530.1,317.5 L530.6,315.6 L531.1,313.7 L531.7,311.8 L532.2,309.8 L532.7,307.9 L533.3,306.0 L533.8,304.0 L534.3,302.1 L534.9,300.2 L535.4,298.3 L535.9,296.3 L536.5,294.4 L537.1,292.5 L537.6,290.6 L538.2,288.6 L538.8,286.7 L539.4,284.8 L540.0,282.9 L540.5,280.9 L541.1,279.0 L541.7,277.1 L542.3,275.2 L542.9,273.2 L543.5,271.3 L544.1,269.3 L544.7,267.4 L545.3,265.4 L545.9,263.5 L546.5,261.6 L547.3,259.7 L548.1,257.9 L549.1,256.1 L550.3,254.4 L551.7,252.8 L553.2,251.5 L554.8,251.0 L556.4,251.3 L558.0,252.3 L559.5,253.6 L561.0,255.0 L562.4,256.5 L563.7,258.0 L565.0,259.6 L566.2,261.2 L567.4,262.8 L568.5,264.5 L569.6,266.3 L570.6,268.0 L571.6,269.8 L572.5,271.6 L573.4,273.5 L574.3,275.3 L575.2,277.2 L576.0,279.0 L576.8,280.9 L577.6,282.8 L578.3,284.6 L579.0,286.5 L579.8,288.3 L580.5,290.1 L581.2,291.9 L581.9,293.8 L582.5,295.6 L583.2,297.5 L583.8,299.3 L584.5,301.1 L585.1,303.0 L585.7,304.9 L586.3,306.8 L586.9,308.7 L587.5,310.6 L588.0,312.6 L588.6,314.5 L589.2,316.5 L589.7,318.5 L590.3,320.6 L590.9,322.6 L591.5,324.6 L592.1,326.6 L592.8,328.6 L593.5,330.5 L594.2,332.5 L594.9,334.4 L595.7,336.3 L596.6,338.1 L597.4,339.9 L598.4,341.7 L599.4,343.4 L600.5,345.0 L601.6,346.6 L602.8,348.1 L604.1,349.5 L605.5,350.8 L607.0,352.1 L608.5,353.3 L610.1,354.4 L611.7,355.5 L613.4,356.4 L615.2,357.4 L617.0,358.2 L618.8,359.0 L620.7,359.8 L622.6,360.4 L624.5,361.0 L626.4,361.6 L628.4,362.1 L630.4,362.6 L632.3,363.0 L634.3,363.4 L636.3,363.7 L638.3,364.0 L640.3,364.3 L642.3,364.5 L644.3,364.7 L646.3,364.8 L648.3,365.0 L650.3,365.1 L652.3,365.1 L654.3,365.2 L656.3,365.2 L658.3,365.2 L660.3,365.2 L662.4,365.2 L664.4,365.2 L666.4,365.1 L668.4,365.1 L670.4,365.0 L672.4,364.9 L674.4,364.9 L676.5,364.8 L678.5,364.7 L680.5,364.7 L682.5,364.6 L684.5,364.6 L686.5,364.6 L688.5,364.6 L690.5,364.6 L692.5,364.6 L694.5,364.6 L696.5,364.6 L698.5,364.6 L700.5,364.6 L702.5,364.6 L704.5,364.6 L706.5,364.6 L708.5,364.6 L710.5,364.5 L712.5,364.4 L714.5,364.3 L716.5,364.1 L718.4,363.9 L720.4,363.6 L722.4,363.4 L724.4,363.0 L726.5,362.7 L728.5,362.4 L730.5,362.2 L732.5,362.0 L734.5,361.9 L736.5,361.9 L738.5,361.9 L740.5,361.7 L742.5,361.4 L744.4,360.8 L746.3,359.8 L748.2,358.6 L750.0,357.6 L751.7,357.2 L753.2,357.8 L754.7,359.0 L756.2,360.2 L757.8,361.2 L759.5,362.1 L761.3,362.9 L763.1,363.5 L765.0,364.1 L766.8,364.6 L768.7,365.1 L770.6,365.6 L772.6,366.2 L774.5,366.7 L776.4,367.2 L778.4,367.6 L780.3,368.1 L782.3,368.6 L784.3,369.0 L786.2,369.5 L788.2,369.9 L790.2,370.3 L792.2,370.7 L794.2,371.1 L796.1,371.4 L798.1,371.8 L800.1,372.1 L802.1,372.4 L804.1,372.7 L806.1,373.0 L808.1,373.2 L810.1,373.5 L812.0,373.7 L814.0,373.9 L816.0,374.1 L818.0,374.3 L820.0,374.5 L822.0,374.7 L824.0,374.9 L826.0,375.0 L828.0,375.2 L830.0,375.3 L832.0,375.4 L834.0,375.6 L836.0,375.7 L838.0,375.8 L840.0,375.9 L842.0,376.0 L844.0,376.1 L846.0,376.2 L848.0,376.2 L850.0,376.3 L852.0,376.4 L854.0,376.5 L856.1,376.6 L858.1,376.6 L860.1,376.7 L862.1,376.7 L864.1,376.8 L866.1,376.9 L868.1,376.9 L870.1,377.0 L872.1,377.0 L874.1,377.1 L876.1,377.1 L878.1,377.2 L880.1,377.2 L882.2,377.2 L884.2,377.3 L886.2,377.3 L888.2,377.4 L890.2,377.4 L892.2,377.4 L894.2,377.5 L896.2,377.5 L898.2,377.5 L900.2,377.6 L902.2,377.6 L904.3,377.6 L906.3,377.7 L908.3,377.7 L910.3,377.7 L912.3,377.8 L914.3,377.8 L916.3,377.8 L918.3,377.9 L920.3,377.9 L922.3,377.9 L924.3,378.0 L926.3,378.0 L928.3,378.1 L930.4,378.1 L932.4,378.1 L934.4,378.2 L936.4,378.2 L938.4,378.3 L940.4,378.3 L942.4,378.4 L944.4,378.4" fill="none" stroke="#ff8000" stroke-width="2.8" stroke-linejoin="round" stroke-linecap="round"/>
<path d="M190.7,786.9 L192.6,786.5 L194.5,786.1 L196.4,785.7 L198.3,785.4 L200.3,785.1 L202.2,784.9 L204.2,784.6 L206.2,784.4 L208.2,784.2 L210.2,784.0 L212.2,783.8 L214.2,783.7 L216.2,783.5 L218.3,783.3 L220.3,783.2 L222.3,783.0 L224.4,782.9 L226.4,782.7 L228.5,782.5 L230.5,782.3 L232.5,782.1 L234.5,781.8 L236.5,781.6 L238.5,781.3 L240.5,780.9 L242.5,780.6 L244.5,780.2 L246.4,779.8 L248.4,779.3 L250.3,778.8 L252.2,778.3 L254.1,777.6 L256.0,777.0 L257.8,776.3 L259.7,775.5 L261.5,774.7 L263.2,773.8 L265.0,772.9 L266.7,771.9 L268.5,770.9 L270.1,769.9 L271.8,768.8 L273.5,767.6 L275.1,766.5 L276.7,765.2 L278.2,764.0 L279.8,762.7 L281.3,761.4 L282.8,760.0 L284.2,758.6 L285.7,757.2 L287.1,755.7 L288.5,754.3 L289.8,752.8 L291.1,751.2 L292.4,749.7 L293.7,748.1 L294.9,746.6 L296.1,744.9 L297.3,743.3 L298.4,741.7 L299.5,740.0 L300.6,738.4 L301.7,736.7 L302.7,735.0 L303.7,733.3 L304.7,731.6 L305.6,729.8 L306.6,728.1 L307.5,726.3 L308.4,724.5 L309.2,722.7 L310.1,720.9 L310.9,719.1 L311.7,717.3 L312.5,715.5 L313.2,713.6 L314.0,711.8 L314.7,709.9 L315.4,708.1 L316.1,706.2 L316.8,704.3 L317.5,702.4 L318.1,700.5 L318.8,698.6 L319.4,696.7 L320.0,694.8 L320.6,692.9 L321.2,691.0 L321.8,689.0 L322.4,687.1 L323.0,685.2 L323.5,683.2 L324.1,681.3 L324.6,679.3 L325.2,677.4 L325.7,675.4 L326.2,673.5 L326.8,671.5 L327.3,669.6 L327.8,667.6 L328.3,665.7 L328.8,663.8 L329.4,661.8 L329.9,659.9 L330.4,657.9 L330.9,656.0 L331.4,654.0 L331.9,652.1 L332.4,650.1 L332.9,648.2 L333.4,646.2 L333.9,644.3 L334.4,642.4 L334.9,640.4 L335.4,638.5 L335.9,636.5 L336.4,634.6 L336.9,632.6 L337.4,630.7 L337.8,628.8 L338.3,626.8 L338.8,624.9 L339.3,622.9 L339.7,621.0 L340.2,619.0 L340.7,617.1 L341.1,615.2 L341.6,613.2 L342.0,611.3 L342.5,609.3 L342.9,607.4 L343.4,605.4 L343.8,603.5 L344.3,601.5 L344.7,599.6 L345.2,597.6 L345.6,595.7 L346.0,593.7 L346.5,591.8 L346.9,589.8 L347.3,587.9 L347.7,585.9 L348.1,584.0 L348.5,582.0 L349.0,580.0 L349.4,578.1 L349.8,576.1 L350.2,574.2 L350.6,572.2 L351.0,570.2 L351.4,568.3 L351.8,566.3 L352.2,564.3 L352.5,562.4 L352.9,560.4 L353.3,558.4 L353.7,556.5 L354.1,554.5 L354.5,552.5 L354.9,550.6 L355.3,548.6 L355.7,546.6 L356.1,544.7 L356.5,542.7 L356.9,540.7 L357.2,538.7 L357.6,536.8 L358.0,534.8 L358.4,532.8 L358.8,530.9 L359.2,528.9 L359.6,526.9 L360.1,524.9 L360.5,523.0 L360.9,521.0 L361.3,519.0 L361.7,517.0 L362.1,515.1 L362.6,513.1 L363.0,511.1 L363.4,509.1 L363.9,507.1 L364.3,505.2 L364.8,503.2 L365.2,501.2 L365.7,499.2 L366.1,497.3 L366.6,495.3 L367.0,493.4 L367.5,491.4 L367.9,489.5 L368.4,487.6 L368.8,485.7 L369.3,483.8 L369.7,481.9 L370.1,480.0 L370.5,478.2 L371.0,476.4 L371.4,474.5 L371.8,472.7 L372.2,470.8 L372.7,468.8 L373.1,466.8 L373.6,464.7 L374.1,462.6 L374.6,460.3 L375.2,457.9 L375.8,455.5 L376.5,453.1 L377.2,451.0 L378.0,449.1 L378.9,447.6 L379.8,446.7 L380.6,446.9 L381.2,448.1 L381.7,450.1 L382.1,452.4 L382.3,454.7 L382.5,456.9 L382.6,458.9 L382.7,460.9 L382.8,463.0 L383.0,465.0 L383.1,467.0 L383.2,469.0 L383.2,471.1 L383.3,473.1 L383.4,475.1 L383.5,477.1 L383.6,479.1 L383.7,481.2 L383.8,483.2 L383.9,485.2 L384.0,487.2 L384.0,489.2 L384.1,491.2 L384.2,493.2 L384.3,495.3 L384.3,497.3 L384.4,499.3 L384.5,501.3 L384.5,503.3 L384.6,505.3 L384.7,507.3 L384.8,509.3 L384.8,511.3 L384.9,513.3 L384.9,515.3 L385.0,517.4 L385.1,519.4 L385.1,521.4 L385.2,523.4 L385.2,525.4 L385.3,527.4 L385.4,529.4 L385.4,531.4 L385.5,533.4 L385.5,535.4 L385.6,537.4 L385.7,539.4 L385.7,541.4 L385.8,543.4 L385.8,545.4 L385.9,547.4 L385.9,549.4 L386.0,551.4 L386.0,553.4 L386.1,555.4 L386.2,557.4 L386.2,559.4 L386.3,561.4 L386.3,563.4 L386.4,565.4 L386.4,567.4 L386.5,569.4 L386.5,571.4 L386.6,573.4 L386.6,575.4 L386.7,577.4 L386.8,579.4 L386.8,581.4 L386.9,583.4 L386.9,585.4 L387.0,587.4 L387.0,589.4 L387.1,591.4 L387.1,593.4 L387.2,595.4 L387.3,597.4 L387.3,599.4 L387.4,601.4 L387.4,603.4 L387.5,605.4 L387.5,607.4 L387.6,609.4 L387.7,611.4 L387.7,613.4 L387.8,615.4 L387.8,617.5 L387.9,619.5 L387.9,621.5 L388.0,623.5 L388.1,625.5 L388.1,627.5 L388.2,629.5 L388.2,631.5 L388.3,633.5 L388.4,635.5 L388.4,637.5 L388.5,639.5 L388.5,641.5 L388.6,643.5 L388.7,645.5 L388.7,647.5 L388.8,649.5 L388.9,651.5 L388.9,653.5 L389.0,655.5 L389.1,657.5 L389.1,659.6 L389.2,661.6 L389.3,663.6 L389.3,665.6 L389.4,667.6 L389.5,669.6 L389.5,671.6 L389.6,673.6 L389.7,675.6 L389.7,677.6 L389.8,679.7 L389.9,681.7 L389.9,683.7 L390.0,685.7 L390.1,687.7 L390.2,689.7 L390.2,691.7 L390.3,693.8 L390.4,695.8 L390.5,697.8 L390.5,699.8 L390.6,701.8 L390.7,703.9 L390.8,705.9 L390.9,707.9 L390.9,709.9 L391.0,711.9 L391.1,713.9 L391.2,716.0 L391.3,718.0 L391.3,720.0 L391.4,722.0 L391.5,724.0 L391.6,726.0 L391.7,727.9 L391.8,729.9 L391.9,731.9 L392.0,733.9 L392.1,735.8 L392.2,737.8 L392.3,739.7 L392.4,741.6 L392.5,743.5 L392.6,745.4 L392.7,747.3 L392.8,749.2 L392.9,751.1 L393.0,753.0 L393.0,755.0 L393.1,756.9 L393.1,759.0 L393.1,761.0 L393.1,763.2 L393.1,765.4 L393.0,767.6 L392.9,770.0 L392.9,772.3 L392.9,774.5 L393.1,776.6 L393.4,778.6 L393.9,780.4 L394.7,782.0 L395.7,783.2 L397.0,784.2 L398.6,784.8 L400.5,785.2 L402.5,785.4 L404.6,785.5 L406.8,785.4 L409.0,785.3 L411.1,785.3 L413.2,785.2 L415.3,785.1 L417.3,785.1 L419.2,785.1 L421.2,785.1 L423.1,785.1 L425.1,785.1 L427.1,785.1 L429.1,785.1 L431.1,785.1 L433.1,785.1 L435.1,785.1 L437.1,785.1 L439.1,785.1 L441.1,785.1 L443.1,785.2 L445.1,785.2 L447.1,785.2 L449.1,785.2 L451.2,785.2 L453.2,785.2 L455.2,785.2 L457.2,785.2 L459.2,785.2 L461.2,785.2 L463.2,785.2 L465.2,785.2 L467.2,785.2 L469.2,785.2 L471.2,785.2 L473.2,785.2 L475.2,785.2 L477.2,785.2 L479.2,785.2 L481.2,785.2 L483.2,785.2 L485.2,785.2 L487.3,785.2 L489.3,785.2 L491.3,785.2 L493.3,785.2 L495.3,785.2 L497.3,785.2 L499.3,785.2 L501.3,785.2 L503.3,785.2 L505.3,785.2 L507.3,785.2 L509.3,785.2 L511.3,785.1 L513.3,785.1 L515.3,785.1 L517.3,785.1 L519.3,785.1 L521.3,785.1 L523.3,785.1 L525.3,785.1 L527.4,785.1 L529.4,785.1 L531.4,785.1 L533.4,785.1 L535.4,785.1 L537.4,785.1 L539.4,785.1 L541.4,785.1 L543.4,785.1 L545.4,785.1 L547.4,785.1 L549.4,785.1 L551.4,785.1 L553.4,785.1 L555.4,785.1 L557.4,785.1 L559.4,785.1 L561.4,785.1 L563.4,785.1 L565.5,785.1 L567.5,785.1 L569.5,785.1 L571.5,785.1 L573.5,785.1 L575.5,785.1 L577.5,785.1 L579.5,785.1 L581.5,785.1 L583.5,785.1 L585.5,785.1 L587.5,785.1 L589.5,785.1 L591.5,785.1 L593.5,785.1 L595.5,785.1 L597.5,785.1 L599.5,785.1 L601.6,785.1 L603.6,785.1 L605.6,785.1 L607.6,785.1 L609.6,785.1 L611.6,785.1 L613.6,785.1 L615.6,785.1 L617.6,785.1 L619.6,785.1 L621.6,785.1 L623.6,785.1 L625.6,785.1 L627.6,785.1 L629.6,785.1 L631.6,785.1 L633.6,785.1 L635.7,785.1 L637.7,785.1 L639.7,785.2 L641.7,785.2 L643.7,785.2 L645.7,785.2 L647.7,785.2 L649.7,785.2 L651.7,785.2 L653.7,785.2 L655.7,785.2 L657.7,785.2 L659.7,785.2 L661.7,785.2 L663.7,785.2 L665.7,785.2 L667.7,785.2 L669.7,785.2 L671.8,785.2 L673.8,785.2 L675.8,785.2 L677.8,785.2 L679.8,785.2 L681.8,785.2 L683.8,785.2 L685.8,785.2 L687.8,785.2 L689.8,785.2 L691.8,785.2 L693.8,785.2 L695.8,785.2 L697.8,785.2 L699.8,785.2 L701.8,785.2 L703.8,785.2 L705.8,785.2 L707.9,785.2 L709.9,785.2 L711.9,785.2 L713.9,785.2 L715.9,785.2 L717.9,785.2 L719.9,785.2 L721.9,785.2 L723.9,785.2 L725.9,785.2 L727.9,785.2 L729.9,785.2 L731.9,785.2 L733.9,785.2 L735.9,785.2 L737.9,785.2 L739.9,785.2 L741.9,785.2 L744.0,785.2 L746.0,785.2 L748.0,785.2 L750.0,785.2 L752.0,785.2 L754.0,785.2 L756.0,785.2 L758.0,785.2 L760.0,785.2 L762.0,785.2 L764.0,785.2 L766.0,785.2 L768.0,785.2 L770.0,785.2 L772.0,785.2 L774.0,785.1 L776.0,785.1 L778.0,785.1 L780.0,785.1 L782.1,785.1 L784.1,785.1 L786.1,785.1 L788.1,785.1 L790.1,785.1 L792.1,785.1 L794.1,785.1 L796.1,785.1 L798.1,785.1 L800.1,785.1 L802.1,785.1 L804.1,785.1 L806.1,785.1 L808.1,785.1 L810.1,785.1 L812.1,785.1 L814.1,785.1 L816.1,785.1 L818.2,785.1 L820.2,785.1 L822.2,785.1 L824.2,785.1 L826.2,785.1 L828.2,785.1 L830.2,785.1 L832.2,785.1 L834.2,785.1 L836.2,785.1 L838.2,785.1 L840.2,785.1 L842.2,785.1 L844.2,785.1 L846.2,785.1 L848.2,785.1 L850.2,785.1 L852.2,785.1 L854.3,785.1 L856.3,785.1 L858.3,785.1 L860.3,785.1 L862.3,785.1 L864.3,785.1 L866.3,785.1 L868.3,785.1 L870.3,785.1 L872.3,785.1 L874.3,785.1 L876.3,785.1 L878.3,785.1 L880.3,785.1 L882.3,785.1 L884.3,785.1 L886.3,785.1 L888.3,785.1 L890.3,785.1 L892.4,785.1 L894.4,785.1 L896.4,785.1 L898.4,785.1 L900.4,785.1 L902.4,785.1 L904.4,785.1 L906.4,785.1 L908.4,785.1 L910.4,785.1 L912.4,785.1 L914.4,785.1 L916.4,785.1 L918.4,785.1 L920.4,785.1 L922.4,785.2 L924.4,785.2 L926.5,785.2 L928.5,785.2 L930.5,785.2 L932.5,785.2 L934.5,785.2 L936.5,785.2 L938.5,785.2 L940.5,785.2 L942.5,785.2 L944.5,785.2" fill="none" stroke="#000000" stroke-width="2.8" stroke-linejoin="round" stroke-linecap="round"/>
<path d="M193.6,773.5 L195.2,775.3 L196.8,776.2 L198.4,776.5 L200.1,776.4 L201.8,776.0 L203.6,775.6 L205.5,775.2 L207.4,774.9 L209.3,774.7 L211.3,774.4 L213.3,774.3 L215.3,774.2 L217.3,774.2 L219.3,774.2 L221.3,774.3 L223.3,774.4 L225.3,774.6 L227.3,774.9 L229.3,775.1 L231.3,775.4 L233.2,775.8 L235.2,776.1 L237.2,776.5 L239.1,776.9 L241.1,777.3 L243.1,777.7 L245.0,778.2 L247.0,778.6 L248.9,779.0 L250.9,779.4 L252.9,779.8 L254.8,780.2 L256.8,780.6 L258.8,780.9 L260.8,781.2 L262.7,781.5 L264.7,781.8 L266.7,782.1 L268.7,782.3 L270.7,782.5 L272.7,782.8 L274.7,782.9 L276.6,783.1 L278.6,783.3 L280.6,783.4 L282.6,783.6 L284.6,783.7 L286.6,783.8 L288.6,783.9 L290.6,784.0 L292.7,784.1 L294.7,784.1 L296.7,784.2 L298.7,784.3 L300.7,784.3 L302.7,784.4 L304.7,784.4 L306.7,784.4 L308.7,784.5 L310.7,784.5 L312.7,784.5 L314.7,784.5 L316.8,784.6 L318.8,784.6 L320.8,784.6 L322.8,784.6 L324.8,784.7 L326.8,784.7 L328.8,784.7 L330.8,784.7 L332.8,784.8 L334.8,784.8 L336.8,784.8 L338.8,784.8 L340.8,784.8 L342.8,784.9 L344.8,784.9 L346.9,784.9 L348.9,784.9 L350.9,784.9 L352.9,785.0 L354.9,785.0 L356.9,785.0 L358.9,785.0 L360.9,785.0 L362.9,785.1 L364.9,785.1 L366.9,785.1 L368.9,785.1 L370.9,785.1 L372.9,785.1 L374.9,785.1 L376.9,785.1 L378.9,785.1 L380.9,785.1 L382.9,785.1 L384.9,785.1 L386.9,785.1 L388.9,785.1 L390.9,785.1 L392.9,785.1 L394.9,785.1 L396.9,785.1 L399.0,785.1 L401.0,785.1 L403.0,785.1 L405.0,785.1 L407.0,785.1 L409.0,785.0 L411.0,785.0 L413.0,785.0 L415.0,785.0 L417.0,784.9 L419.0,784.9 L421.0,784.9 L423.0,784.8 L425.0,784.8 L427.0,784.8 L429.0,784.7 L431.0,784.7 L433.0,784.6 L435.1,784.6 L437.1,784.5 L439.1,784.4 L441.1,784.4 L443.1,784.3 L445.1,784.2 L447.1,784.1 L449.1,784.0 L451.1,783.9 L453.1,783.8 L455.1,783.7 L457.1,783.6 L459.1,783.4 L461.1,783.3 L463.1,783.1 L465.1,782.9 L467.1,782.7 L469.1,782.5 L471.1,782.3 L473.1,782.1 L475.1,781.9 L477.1,781.6 L479.1,781.4 L481.0,781.1 L483.0,780.8 L485.0,780.5 L487.0,780.2 L489.0,779.8 L490.9,779.4 L492.9,779.1 L494.9,778.6 L496.8,778.2 L498.8,777.8 L500.7,777.3 L502.6,776.8 L504.6,776.2 L506.5,775.7 L508.4,775.1 L510.3,774.5 L512.1,773.8 L514.0,773.1 L515.9,772.4 L517.7,771.7 L519.5,770.9 L521.4,770.1 L523.2,769.3 L525.0,768.5 L526.8,767.7 L528.7,766.9 L530.5,766.1 L532.3,765.3 L534.2,764.6 L536.0,763.8 L537.9,763.1 L539.8,762.3 L541.7,761.6 L543.6,760.9 L545.5,760.2 L547.4,759.5 L549.3,758.9 L551.2,758.2 L553.1,757.5 L555.0,756.9 L556.9,756.2 L558.8,755.6 L560.8,754.9 L562.7,754.3 L564.6,753.6 L566.5,752.9 L568.4,752.2 L570.3,751.5 L572.1,750.8 L574.0,750.1 L575.9,749.4 L577.7,748.6 L579.6,747.8 L581.4,747.0 L583.2,746.2 L585.0,745.4 L586.8,744.5 L588.6,743.6 L590.3,742.7 L592.1,741.8 L593.8,740.8 L595.5,739.8 L597.2,738.7 L598.8,737.6 L600.4,736.5 L602.0,735.4 L603.6,734.2 L605.2,732.9 L606.7,731.7 L608.2,730.4 L609.7,729.0 L611.2,727.7 L612.6,726.3 L614.0,724.9 L615.4,723.4 L616.8,721.9 L618.1,720.4 L619.5,718.9 L620.8,717.4 L622.0,715.8 L623.3,714.2 L624.5,712.6 L625.7,710.9 L626.9,709.3 L628.1,707.6 L629.2,705.9 L630.4,704.2 L631.5,702.5 L632.6,700.8 L633.6,699.1 L634.6,697.3 L635.7,695.6 L636.6,693.8 L637.6,692.0 L638.6,690.3 L639.5,688.5 L640.4,686.7 L641.3,684.9 L642.1,683.1 L643.0,681.3 L643.8,679.6 L644.6,677.8 L645.4,676.0 L646.1,674.2 L646.9,672.4 L647.6,670.6 L648.4,668.8 L649.1,667.0 L649.9,665.2 L650.6,663.4 L651.3,661.5 L652.1,659.7 L652.8,657.8 L653.6,656.0 L654.4,654.1 L655.2,652.2 L656.0,650.2 L656.9,648.3 L657.8,646.3 L658.7,644.3 L659.6,642.3 L660.7,640.4 L661.7,638.6 L662.9,637.0 L664.2,635.5 L665.6,634.4 L667.0,633.5 L668.6,633.3 L670.1,633.6 L671.5,634.6 L672.9,635.8 L674.1,637.2 L675.1,638.7 L676.1,640.3 L676.9,642.0 L677.6,643.8 L678.3,645.7 L678.8,647.6 L679.3,649.6 L679.7,651.7 L680.1,653.8 L680.5,655.9 L680.8,658.0 L681.2,660.1 L681.5,662.2 L681.8,664.2 L682.2,666.3 L682.6,668.3 L683.0,670.2 L683.3,672.2 L683.7,674.1 L684.1,676.1 L684.5,678.0 L684.9,679.9 L685.3,681.8 L685.7,683.7 L686.1,685.6 L686.4,687.5 L686.8,689.5 L687.1,691.4 L687.4,693.4 L687.7,695.4 L687.9,697.4 L688.2,699.4 L688.4,701.4 L688.7,703.4 L688.9,705.4 L689.1,707.4 L689.4,709.5 L689.6,711.5 L689.8,713.5 L690.1,715.5 L690.3,717.5 L690.6,719.5 L690.8,721.6 L691.1,723.5 L691.4,725.5 L691.7,727.5 L692.1,729.5 L692.4,731.4 L692.8,733.3 L693.2,735.3 L693.6,737.2 L694.0,739.1 L694.4,741.1 L694.8,743.0 L695.2,744.9 L695.6,746.9 L696.0,748.9 L696.4,750.9 L696.7,752.9 L697.1,754.9 L697.4,756.9 L697.7,759.0 L698.1,761.1 L698.5,763.1 L698.9,765.1 L699.5,767.0 L700.2,768.9 L701.1,770.6 L702.2,772.2 L703.4,773.7 L704.8,775.1 L706.4,776.2 L708.0,777.3 L709.8,778.1 L711.6,778.8 L713.5,779.3 L715.5,779.6 L717.5,779.8 L719.5,779.9 L721.6,779.9 L723.6,779.9 L725.7,779.9 L727.7,780.0 L729.7,780.0 L731.8,780.1 L733.8,780.2 L735.8,780.4 L737.8,780.5 L739.8,780.6 L741.8,780.7 L743.8,780.8 L745.8,780.9 L747.7,781.0 L749.7,781.1 L751.7,781.2 L753.7,781.3 L755.7,781.4 L757.7,781.5 L759.7,781.6 L761.7,781.7 L763.7,781.8 L765.7,781.9 L767.7,782.0 L769.8,782.0 L771.8,782.1 L773.8,782.2 L775.8,782.2 L777.8,782.3 L779.8,782.4 L781.8,782.4 L783.8,782.5 L785.8,782.5 L787.8,782.6 L789.8,782.6 L791.8,782.7 L793.8,782.7 L795.8,782.8 L797.8,782.8 L799.8,782.9 L801.8,782.9 L803.8,782.9 L805.8,783.0 L807.8,783.0 L809.8,783.0 L811.8,783.1 L813.8,783.1 L815.8,783.1 L817.8,783.2 L819.8,783.2 L821.9,783.2 L823.9,783.2 L825.9,783.3 L827.9,783.3 L829.9,783.3 L831.9,783.3 L833.9,783.3 L835.9,783.3 L837.9,783.4 L839.9,783.4 L841.9,783.4 L843.9,783.4 L845.9,783.4 L847.9,783.4 L849.9,783.4 L851.9,783.4 L854.0,783.4 L856.0,783.4 L858.0,783.4 L860.0,783.5 L862.0,783.5 L864.0,783.5 L866.0,783.5 L868.0,783.5 L870.0,783.5 L872.0,783.5 L874.0,783.5 L876.0,783.5 L878.0,783.5 L880.0,783.5 L882.0,783.5 L884.0,783.5 L886.1,783.5 L888.1,783.5 L890.1,783.5 L892.1,783.5 L894.1,783.5 L896.1,783.5 L898.1,783.5 L900.1,783.5 L902.1,783.6 L904.1,783.6 L906.1,783.6 L908.1,783.6 L910.1,783.6 L912.1,783.6 L914.1,783.6 L916.1,783.6 L918.1,783.6 L920.1,783.6 L922.1,783.7 L924.1,783.7 L926.2,783.7 L928.2,783.7 L930.2,783.7 L932.2,783.8 L934.2,783.8 L936.2,783.8 L938.2,783.8 L940.2,783.9 L942.2,783.9 L944.2,783.9" fill="none" stroke="#ff0000" stroke-width="2.8" stroke-linejoin="round" stroke-linecap="round"/>
<path d="M191.0,785.6 L192.8,785.1 L194.7,784.6 L196.6,784.2 L198.5,783.9 L200.4,783.5 L202.4,783.2 L204.4,783.0 L206.3,782.7 L208.3,782.5 L210.3,782.3 L212.3,782.2 L214.4,782.0 L216.4,781.8 L218.4,781.7 L220.5,781.5 L222.5,781.4 L224.5,781.2 L226.6,781.0 L228.6,780.9 L230.6,780.7 L232.6,780.4 L234.6,780.2 L236.6,779.9 L238.6,779.6 L240.6,779.3 L242.6,778.9 L244.5,778.5 L246.4,778.0 L248.3,777.5 L250.2,776.9 L252.1,776.2 L253.9,775.6 L255.7,774.8 L257.5,774.0 L259.3,773.1 L261.0,772.2 L262.7,771.2 L264.4,770.1 L266.0,769.0 L267.7,767.9 L269.3,766.7 L270.9,765.5 L272.4,764.2 L273.9,762.9 L275.5,761.6 L276.9,760.2 L278.4,758.8 L279.8,757.3 L281.2,755.9 L282.6,754.4 L284.0,752.8 L285.3,751.3 L286.6,749.7 L287.9,748.2 L289.1,746.6 L290.4,745.0 L291.6,743.3 L292.8,741.7 L293.9,740.1 L295.1,738.4 L296.2,736.8 L297.3,735.2 L298.3,733.5 L299.4,731.8 L300.4,730.2 L301.4,728.5 L302.4,726.8 L303.4,725.1 L304.3,723.4 L305.2,721.7 L306.2,719.9 L307.1,718.2 L308.0,716.4 L308.9,714.5 L309.7,712.7 L310.6,710.9 L311.5,709.0 L312.4,707.2 L313.3,705.4 L314.3,703.5 L315.3,701.7 L316.3,700.0 L317.4,698.2 L318.5,696.5 L319.7,694.9 L321.0,693.3 L322.3,691.8 L323.8,690.3 L325.3,689.0 L326.8,687.8 L328.4,686.9 L330.0,686.5 L331.6,686.6 L333.0,687.2 L334.5,688.3 L335.8,689.7 L337.0,691.3 L338.2,693.1 L339.2,695.0 L340.1,696.9 L340.9,698.8 L341.7,700.7 L342.3,702.6 L342.9,704.6 L343.4,706.5 L343.9,708.5 L344.3,710.4 L344.7,712.4 L345.1,714.4 L345.5,716.3 L345.9,718.3 L346.3,720.3 L346.7,722.2 L347.1,724.2 L347.6,726.1 L348.1,728.1 L348.5,730.0 L349.0,732.0 L349.5,733.9 L349.9,735.8 L350.4,737.8 L350.8,739.7 L351.3,741.7 L351.7,743.6 L352.1,745.6 L352.5,747.5 L352.8,749.5 L353.2,751.5 L353.5,753.5 L353.8,755.5 L354.2,757.5 L354.6,759.5 L355.0,761.5 L355.5,763.5 L356.0,765.6 L356.6,767.6 L357.4,769.5 L358.3,771.2 L359.3,772.8 L360.6,774.1 L362.0,775.2 L363.7,776.0 L365.5,776.6 L367.5,777.1 L369.5,777.4 L371.5,777.6 L373.6,777.7 L375.6,777.8 L377.6,777.9 L379.6,778.0 L381.6,778.0 L383.6,778.1 L385.6,778.2 L387.6,778.4 L389.6,778.5 L391.6,778.7 L393.6,779.0 L395.6,779.2 L397.6,779.5 L399.6,779.7 L401.6,780.0 L403.6,780.3 L405.6,780.5 L407.6,780.8 L409.7,781.0 L411.7,781.2 L413.7,781.3 L415.7,781.5 L417.7,781.6 L419.6,781.7 L421.6,781.7 L423.6,781.7 L425.6,781.7 L427.6,781.7 L429.6,781.6 L431.6,781.5 L433.6,781.4 L435.6,781.3 L437.5,781.2 L439.5,781.0 L441.5,780.8 L443.5,780.7 L445.5,780.5 L447.5,780.3 L449.5,780.1 L451.5,779.9 L453.4,779.7 L455.4,779.5 L457.4,779.3 L459.4,779.1 L461.4,778.9 L463.4,778.8 L465.4,778.6 L467.4,778.4 L469.5,778.3 L471.5,778.1 L473.5,778.0 L475.5,777.9 L477.5,777.8 L479.6,777.7 L481.6,777.7 L483.6,777.6 L485.6,777.6 L487.7,777.5 L489.7,777.5 L491.7,777.4 L493.7,777.3 L495.8,777.2 L497.8,777.1 L499.7,777.0 L501.7,776.8 L503.7,776.5 L505.7,776.3 L507.6,775.9 L509.5,775.6 L511.4,775.1 L513.3,774.6 L515.2,774.1 L517.0,773.4 L518.9,772.7 L520.7,772.0 L522.5,771.2 L524.2,770.3 L526.0,769.4 L527.7,768.4 L529.4,767.3 L531.0,766.3 L532.7,765.1 L534.3,763.9 L535.9,762.7 L537.5,761.4 L539.0,760.0 L540.5,758.7 L542.0,757.2 L543.4,755.8 L544.9,754.2 L546.3,752.7 L547.7,751.2 L549.1,749.6 L550.5,748.1 L551.9,746.6 L553.3,745.1 L554.7,743.6 L556.1,742.2 L557.6,740.8 L559.1,739.5 L560.6,738.3 L562.2,737.1 L563.8,736.1 L565.4,735.1 L567.1,734.2 L568.9,733.5 L570.8,732.9 L572.7,732.4 L574.6,732.1 L576.5,732.1 L578.3,732.4 L579.9,733.0 L581.4,734.0 L582.7,735.3 L583.8,736.9 L584.8,738.8 L585.8,740.8 L586.7,742.8 L587.6,744.9 L588.6,747.0 L589.6,748.9 L590.6,750.7 L591.8,752.4 L593.0,753.9 L594.4,755.2 L595.9,756.3 L597.5,757.2 L599.2,758.0 L601.1,758.5 L603.0,758.8 L605.0,759.0 L607.1,759.0 L609.1,758.9 L611.2,758.6 L613.2,758.2 L615.1,757.7 L617.1,757.0 L618.9,756.3 L620.8,755.5 L622.6,754.6 L624.4,753.7 L626.1,752.7 L627.8,751.6 L629.5,750.5 L631.2,749.4 L632.8,748.2 L634.5,747.0 L636.1,745.8 L637.6,744.6 L639.2,743.4 L640.7,742.2 L642.2,741.0 L643.7,739.7 L645.2,738.4 L646.7,737.1 L648.1,735.7 L649.5,734.3 L650.9,732.8 L652.3,731.3 L653.6,729.8 L655.0,728.2 L656.3,726.5 L657.7,724.9 L659.0,723.3 L660.5,721.8 L661.9,720.3 L663.4,719.0 L665.0,717.8 L666.7,716.8 L668.4,716.1 L670.3,715.5 L672.2,715.2 L674.1,715.2 L676.0,715.5 L677.7,716.0 L679.3,716.9 L680.7,718.1 L681.9,719.5 L682.9,721.2 L683.7,723.1 L684.5,725.1 L685.2,727.2 L685.8,729.3 L686.4,731.4 L687.1,733.4 L687.8,735.4 L688.5,737.2 L689.3,739.0 L690.0,740.8 L690.8,742.6 L691.5,744.4 L692.3,746.1 L693.1,747.9 L693.8,749.7 L694.6,751.6 L695.3,753.5 L696.1,755.4 L696.9,757.3 L697.7,759.2 L698.5,761.1 L699.3,763.1 L700.1,765.0 L701.0,766.9 L701.9,768.8 L702.9,770.5 L704.1,772.0 L705.4,773.4 L707.0,774.4 L708.6,775.2 L710.4,775.9 L712.3,776.3 L714.2,776.7 L716.1,777.0 L718.1,777.2 L720.0,777.3 L722.0,777.3 L724.0,777.3 L725.9,777.2 L727.9,777.1 L730.0,776.9 L732.0,776.7 L734.0,776.5 L736.0,776.2 L738.0,776.0 L740.1,775.8 L742.1,775.5 L744.1,775.3 L746.2,775.1 L748.2,775.0 L750.2,774.9 L752.2,774.8 L754.2,774.8 L756.3,774.8 L758.3,774.8 L760.3,774.8 L762.3,774.9 L764.3,775.0 L766.2,775.1 L768.2,775.3 L770.2,775.4 L772.2,775.6 L774.2,775.8 L776.2,776.0 L778.2,776.2 L780.2,776.4 L782.2,776.6 L784.1,776.8 L786.1,777.0 L788.1,777.2 L790.1,777.4 L792.1,777.7 L794.1,777.9 L796.1,778.1 L798.1,778.3 L800.1,778.5 L802.1,778.7 L804.1,779.0 L806.0,779.2 L808.0,779.4 L810.0,779.6 L812.0,779.8 L814.0,780.0 L816.0,780.2 L818.0,780.4 L820.0,780.6 L822.0,780.8 L824.0,781.0 L826.0,781.1 L828.0,781.3 L830.0,781.5 L832.0,781.6 L834.0,781.8 L836.0,781.9 L838.0,782.1 L840.0,782.2 L842.0,782.4 L844.0,782.5 L846.0,782.6 L848.0,782.7 L850.0,782.8 L852.0,782.9 L854.0,783.0 L856.0,783.1 L858.0,783.1 L860.0,783.2 L862.0,783.3 L864.0,783.3 L866.0,783.4 L868.0,783.4 L870.0,783.4 L872.0,783.5 L874.0,783.5 L876.0,783.5 L878.0,783.5 L880.1,783.6 L882.1,783.6 L884.1,783.6 L886.1,783.6 L888.1,783.6 L890.1,783.6 L892.1,783.6 L894.1,783.6 L896.1,783.6 L898.1,783.6 L900.1,783.6 L902.1,783.6 L904.1,783.6 L906.1,783.6 L908.1,783.6 L910.1,783.6 L912.1,783.6 L914.1,783.6 L916.1,783.6 L918.1,783.6 L920.1,783.6 L922.1,783.6 L924.2,783.6 L926.2,783.6 L928.2,783.6 L930.2,783.7 L932.2,783.7 L934.2,783.7 L936.2,783.7 L938.2,783.8 L940.2,783.8 L942.2,783.9 L944.2,783.9" fill="none" stroke="#008000" stroke-width="2.8" stroke-linejoin="round" stroke-linecap="round"/>
<path d="M198.6,780.3 L200.5,780.0 L202.5,779.7 L204.4,779.5 L206.4,779.3 L208.4,779.2 L210.4,779.1 L212.4,779.0 L214.4,779.0 L216.4,779.0 L218.5,779.0 L220.5,779.0 L222.5,779.0 L224.5,779.0 L226.6,779.0 L228.6,779.0 L230.6,778.9 L232.6,778.9 L234.6,778.7 L236.6,778.5 L238.6,778.3 L240.6,778.0 L242.6,777.6 L244.6,777.2 L246.5,776.7 L248.4,776.1 L250.3,775.5 L252.2,774.8 L254.1,774.1 L255.9,773.2 L257.6,772.4 L259.4,771.4 L261.1,770.4 L262.7,769.3 L264.3,768.1 L265.8,766.9 L267.3,765.6 L268.7,764.3 L270.1,762.9 L271.3,761.4 L272.6,759.8 L273.7,758.2 L274.9,756.6 L276.0,754.9 L277.0,753.2 L278.0,751.5 L279.0,749.7 L280.0,747.9 L280.9,746.1 L281.9,744.3 L282.8,742.4 L283.8,740.6 L284.7,738.8 L285.7,737.0 L286.7,735.2 L287.7,733.5 L288.7,731.8 L289.8,730.0 L290.8,728.3 L291.9,726.7 L292.9,725.0 L294.0,723.3 L295.1,721.6 L296.1,720.0 L297.1,718.3 L298.2,716.6 L299.2,714.9 L300.1,713.1 L301.1,711.4 L302.0,709.6 L302.9,707.8 L303.8,706.0 L304.6,704.2 L305.5,702.4 L306.3,700.5 L307.1,698.7 L307.9,696.8 L308.6,695.0 L309.4,693.1 L310.2,691.2 L310.9,689.3 L311.7,687.5 L312.4,685.6 L313.1,683.7 L313.9,681.9 L314.6,680.0 L315.4,678.1 L316.1,676.3 L316.9,674.4 L317.9,672.6 L319.0,670.7 L320.3,668.8 L321.7,667.1 L323.2,666.0 L324.6,665.7 L325.8,666.3 L326.8,667.6 L327.6,669.4 L328.4,671.3 L329.1,673.2 L329.7,675.1 L330.3,677.1 L330.8,679.0 L331.3,681.0 L331.8,682.9 L332.2,684.9 L332.6,686.9 L333.0,688.8 L333.3,690.8 L333.6,692.8 L333.9,694.8 L334.2,696.8 L334.4,698.8 L334.6,700.8 L334.8,702.8 L335.0,704.8 L335.2,706.8 L335.4,708.8 L335.5,710.8 L335.7,712.8 L335.9,714.8 L336.0,716.8 L336.2,718.8 L336.4,720.8 L336.6,722.8 L336.8,724.8 L337.0,726.8 L337.3,728.8 L337.5,730.8 L337.8,732.8 L338.1,734.7 L338.4,736.7 L338.8,738.7 L339.1,740.6 L339.5,742.6 L339.8,744.6 L340.2,746.6 L340.5,748.5 L340.8,750.5 L341.1,752.5 L341.3,754.5 L341.5,756.5 L341.7,758.5 L341.9,760.5 L342.0,762.6 L342.2,764.6 L342.4,766.6 L342.6,768.7 L342.9,770.7 L343.4,772.7 L343.9,774.7 L344.5,776.6 L345.4,778.4 L346.5,779.8 L347.9,780.8 L349.7,781.2 L351.6,781.4 L353.7,781.3 L355.8,781.4 L357.8,781.5 L359.9,781.7 L361.9,781.9 L363.9,782.2 L365.9,782.5 L367.9,782.8 L369.9,783.2 L371.9,783.5 L373.9,783.8 L375.9,784.0 L377.9,784.3 L379.9,784.5 L381.9,784.7 L383.9,784.9 L385.9,785.0 L387.9,785.1 L389.8,785.2 L391.8,785.3 L393.8,785.4 L395.8,785.5 L397.8,785.5 L399.8,785.5 L401.8,785.5 L403.8,785.5 L405.8,785.5 L407.8,785.5 L409.8,785.4 L411.8,785.4 L413.8,785.4 L415.8,785.3 L417.8,785.2 L419.8,785.2 L421.8,785.1 L423.8,785.1 L425.8,785.0 L427.9,784.9 L429.9,784.9 L431.9,784.8 L433.9,784.7 L435.9,784.7 L437.9,784.6 L439.9,784.6 L441.9,784.5 L443.9,784.5 L446.0,784.5 L448.0,784.4 L450.0,784.4 L452.0,784.3 L454.0,784.2 L456.0,784.2 L458.0,784.1 L460.0,784.0 L462.0,784.0 L464.0,783.9 L466.1,783.8 L468.1,783.7 L470.1,783.6 L472.1,783.4 L474.0,783.3 L476.0,783.1 L478.0,783.0 L480.0,782.8 L482.0,782.6 L484.0,782.4 L486.0,782.1 L487.9,781.9 L489.9,781.6 L491.9,781.3 L493.8,781.0 L495.8,780.7 L497.8,780.3 L499.7,780.0 L501.6,779.5 L503.6,779.1 L505.5,778.6 L507.4,778.0 L509.3,777.5 L511.2,776.8 L513.0,776.2 L514.9,775.4 L516.7,774.7 L518.6,773.8 L520.4,772.9 L522.2,772.0 L523.9,771.0 L525.7,770.0 L527.5,768.9 L529.2,767.9 L531.0,766.9 L532.8,765.9 L534.6,764.9 L536.4,763.9 L538.1,763.0 L540.0,762.2 L541.8,761.4 L543.6,760.7 L545.5,760.0 L547.4,759.5 L549.3,759.2 L551.2,759.0 L553.1,758.9 L555.1,759.1 L557.0,759.5 L559.0,760.1 L560.9,760.9 L562.9,761.7 L564.9,762.3 L566.8,762.7 L568.8,762.8 L570.8,762.7 L572.7,762.4 L574.7,762.0 L576.7,761.6 L578.6,761.2 L580.6,760.8 L582.6,760.3 L584.5,759.9 L586.5,759.4 L588.4,758.9 L590.4,758.4 L592.3,757.8 L594.3,757.3 L596.2,756.7 L598.1,756.1 L600.0,755.4 L601.9,754.7 L603.7,754.0 L605.6,753.3 L607.4,752.5 L609.2,751.6 L611.0,750.7 L612.7,749.8 L614.5,748.8 L616.2,747.8 L617.9,746.7 L619.6,745.6 L621.2,744.5 L622.8,743.3 L624.4,742.0 L626.0,740.8 L627.5,739.5 L629.0,738.1 L630.5,736.7 L631.9,735.3 L633.3,733.8 L634.7,732.3 L636.1,730.8 L637.4,729.3 L638.7,727.8 L640.0,726.3 L641.3,724.8 L642.6,723.3 L643.9,721.8 L645.1,720.3 L646.3,718.8 L647.6,717.3 L648.8,715.8 L650.0,714.2 L651.2,712.6 L652.3,710.9 L653.5,709.2 L654.7,707.4 L655.8,705.6 L657.0,703.8 L658.2,702.1 L659.5,700.5 L660.9,699.2 L662.5,698.1 L664.1,697.3 L666.0,696.9 L667.9,696.9 L669.9,697.3 L671.8,697.9 L673.6,698.9 L675.1,700.2 L676.3,701.7 L677.3,703.4 L678.2,705.2 L678.9,707.1 L679.6,709.0 L680.3,711.0 L680.9,713.0 L681.5,715.0 L682.1,717.0 L682.6,719.0 L683.2,721.0 L683.8,722.9 L684.3,724.9 L684.9,726.7 L685.5,728.6 L686.1,730.4 L686.7,732.3 L687.3,734.1 L687.9,735.9 L688.5,737.7 L689.0,739.5 L689.6,741.4 L690.2,743.2 L690.7,745.1 L691.3,747.1 L691.8,749.0 L692.3,751.1 L692.8,753.1 L693.2,755.3 L693.7,757.4 L694.2,759.5 L694.8,761.7 L695.3,763.7 L695.9,765.8 L696.6,767.7 L697.4,769.6 L698.2,771.4 L699.2,773.0 L700.3,774.5 L701.5,775.8 L702.8,777.0 L704.3,777.9 L705.9,778.7 L707.6,779.3 L709.5,779.7 L711.4,780.1 L713.4,780.3 L715.5,780.5 L717.5,780.6 L719.6,780.6 L721.6,780.7 L723.7,780.7 L725.7,780.8 L727.7,780.8 L729.7,780.8 L731.7,780.8 L733.7,780.9 L735.7,780.9 L737.7,780.9 L739.7,781.0 L741.7,781.0 L743.7,781.1 L745.7,781.1 L747.7,781.2 L749.7,781.2 L751.7,781.3 L753.7,781.3 L755.7,781.4 L757.7,781.5 L759.7,781.5 L761.7,781.6 L763.7,781.7 L765.7,781.8 L767.8,781.8 L769.8,781.9 L771.8,782.0 L773.8,782.1 L775.8,782.2 L777.8,782.2 L779.8,782.3 L781.8,782.4 L783.8,782.5 L785.8,782.6 L787.8,782.7 L789.8,782.8 L791.8,782.9 L793.8,783.0 L795.8,783.0 L797.8,783.1 L799.8,783.2 L801.8,783.3 L803.8,783.4 L805.8,783.5 L807.8,783.6 L809.8,783.6 L811.8,783.7 L813.8,783.8 L815.8,783.9 L817.9,784.0 L819.9,784.0 L821.9,784.1 L823.9,784.2 L825.9,784.2 L827.9,784.3 L829.9,784.4 L831.9,784.4 L833.9,784.5 L835.9,784.5 L837.9,784.6 L839.9,784.6 L841.9,784.6 L843.9,784.7 L845.9,784.7 L847.9,784.7 L849.9,784.8 L851.9,784.8 L853.9,784.8 L855.9,784.8 L858.0,784.8 L860.0,784.8 L862.0,784.8 L864.0,784.8 L866.0,784.8 L868.0,784.8 L870.0,784.8 L872.0,784.8 L874.0,784.8 L876.0,784.8 L878.0,784.8 L880.0,784.8 L882.0,784.8 L884.0,784.8 L886.0,784.8 L888.0,784.8 L890.0,784.8 L892.1,784.8 L894.1,784.7 L896.1,784.7 L898.1,784.7 L900.1,784.7 L902.1,784.7 L904.1,784.7 L906.1,784.7 L908.1,784.7 L910.1,784.7 L912.1,784.7 L914.1,784.7 L916.1,784.7 L918.1,784.7 L920.1,784.8 L922.1,784.8 L924.1,784.8 L926.1,784.8 L928.2,784.8 L930.2,784.9 L932.2,784.9 L934.2,784.9 L936.2,785.0 L938.2,785.0 L940.2,785.1 L942.2,785.1 L944.2,785.2" fill="none" stroke="#000080" stroke-width="2.8" stroke-linejoin="round" stroke-linecap="round"/>
<path d="M190.8,771.5 L192.5,772.4 L194.0,773.9 L195.3,775.6 L196.4,777.4 L197.2,779.0 L197.8,780.2 L198.9,780.5 L200.6,780.1 L202.3,779.8 L204.1,779.6 L206.0,779.4 L207.9,779.3 L209.8,779.2 L211.8,779.1 L213.8,779.1 L215.9,779.1 L217.9,779.0 L220.0,779.0 L222.1,779.0 L224.2,778.9 L226.3,778.8 L228.3,778.7 L230.4,778.5 L232.4,778.3 L234.5,778.0 L236.5,777.7 L238.4,777.2 L240.4,776.7 L242.3,776.2 L244.1,775.5 L246.0,774.8 L247.8,774.0 L249.6,773.2 L251.3,772.3 L253.0,771.3 L254.7,770.3 L256.4,769.2 L258.0,768.1 L259.6,766.9 L261.2,765.7 L262.8,764.5 L264.3,763.2 L265.8,761.8 L267.3,760.5 L268.7,759.1 L270.2,757.7 L271.6,756.2 L273.0,754.7 L274.3,753.2 L275.7,751.7 L277.0,750.2 L278.3,748.7 L279.6,747.1 L280.9,745.6 L282.1,744.0 L283.4,742.4 L284.6,740.8 L285.8,739.3 L287.0,737.7 L288.1,736.1 L289.3,734.5 L290.5,732.9 L291.7,731.3 L292.8,729.7 L294.0,728.1 L295.2,726.5 L296.4,724.8 L297.6,723.2 L298.9,721.6 L300.1,719.9 L301.4,718.2 L302.7,716.6 L304.0,714.9 L305.3,713.2 L306.7,711.6 L308.2,710.6 L309.6,710.4 L311.1,711.2 L312.5,712.7 L313.7,714.5 L314.8,716.3 L315.6,718.2 L316.3,720.1 L316.8,722.0 L317.3,724.0 L317.6,726.0 L317.9,727.9 L318.1,729.9 L318.3,732.0 L318.6,734.0 L318.8,736.0 L319.1,737.9 L319.4,739.9 L319.7,741.9 L320.1,743.9 L320.4,745.9 L320.8,747.9 L321.1,749.8 L321.5,751.8 L321.8,753.8 L322.2,755.7 L322.5,757.7 L322.9,759.7 L323.2,761.7 L323.5,763.6 L323.8,765.6 L324.1,767.6 L324.5,769.5 L324.9,771.5 L325.4,773.5 L326.0,775.5 L326.7,777.5 L327.7,779.3 L329.0,780.7 L330.6,781.7 L332.5,782.2 L334.5,782.5 L336.6,782.7 L338.6,782.9 L340.6,783.1 L342.6,783.2 L344.6,783.3 L346.7,783.3 L348.7,783.3 L350.7,783.3 L352.6,783.3 L354.6,783.3 L356.6,783.2 L358.6,783.2 L360.6,783.1 L362.6,783.1 L364.6,783.0 L366.6,783.0 L368.5,783.0 L370.5,783.0 L372.5,783.0 L374.5,783.1 L376.5,783.2 L378.5,783.3 L380.5,783.3 L382.5,783.4 L384.5,783.6 L386.5,783.7 L388.5,783.8 L390.5,783.9 L392.6,784.0 L394.6,784.1 L396.6,784.2 L398.6,784.3 L400.6,784.4 L402.6,784.4 L404.6,784.5 L406.6,784.5 L408.6,784.6 L410.6,784.6 L412.6,784.6 L414.6,784.6 L416.6,784.5 L418.6,784.5 L420.6,784.5 L422.6,784.5 L424.6,784.4 L426.6,784.4 L428.6,784.3 L430.6,784.3 L432.6,784.2 L434.6,784.1 L436.6,784.1 L438.6,784.0 L440.7,784.0 L442.7,783.9 L444.7,783.8 L446.7,783.8 L448.7,783.7 L450.7,783.7 L452.7,783.6 L454.7,783.6 L456.7,783.6 L458.8,783.5 L460.8,783.5 L462.8,783.5 L464.8,783.4 L466.8,783.4 L468.8,783.3 L470.8,783.3 L472.9,783.2 L474.9,783.1 L476.9,783.0 L478.9,782.9 L480.9,782.8 L482.8,782.7 L484.8,782.5 L486.8,782.3 L488.8,782.1 L490.8,781.8 L492.7,781.5 L494.7,781.2 L496.6,780.8 L498.6,780.5 L500.5,780.0 L502.4,779.6 L504.3,779.1 L506.2,778.5 L508.1,777.9 L510.0,777.3 L511.9,776.6 L513.8,775.8 L515.6,775.0 L517.5,774.2 L519.3,773.4 L521.1,772.5 L523.0,771.7 L524.8,770.8 L526.7,770.0 L528.5,769.2 L530.4,768.4 L532.3,767.7 L534.2,767.0 L536.1,766.4 L538.0,765.8 L539.9,765.3 L541.9,764.9 L543.8,764.4 L545.8,764.1 L547.8,763.7 L549.7,763.4 L551.7,763.1 L553.7,762.8 L555.7,762.5 L557.7,762.2 L559.7,761.9 L561.6,761.6 L563.6,761.3 L565.6,760.9 L567.5,760.5 L569.5,760.0 L571.4,759.5 L573.3,758.9 L575.2,758.3 L577.1,757.6 L579.0,756.9 L580.9,756.1 L582.7,755.3 L584.6,754.5 L586.4,753.7 L588.2,752.8 L590.1,751.9 L591.9,751.0 L593.7,750.1 L595.5,749.1 L597.3,748.2 L599.1,747.3 L600.9,746.3 L602.6,745.4 L604.4,744.5 L606.2,743.6 L608.0,742.7 L609.7,741.9 L611.5,741.0 L613.2,740.2 L615.0,739.3 L616.7,738.4 L618.4,737.5 L620.1,736.5 L621.8,735.5 L623.4,734.4 L625.0,733.2 L626.6,732.0 L628.1,730.6 L629.6,729.2 L631.0,727.7 L632.4,726.1 L633.8,724.6 L635.1,722.9 L636.3,721.3 L637.5,719.6 L638.7,717.9 L639.8,716.2 L640.8,714.5 L641.8,712.7 L642.7,711.0 L643.7,709.3 L644.5,707.6 L645.4,705.8 L646.3,704.1 L647.1,702.3 L648.0,700.6 L648.8,698.8 L649.7,697.1 L650.6,695.3 L651.5,693.5 L652.5,691.7 L653.5,690.0 L654.5,688.2 L655.6,686.4 L656.7,684.6 L657.9,682.8 L659.2,681.0 L660.5,679.2 L661.9,677.4 L663.3,675.9 L664.8,674.5 L666.3,673.5 L667.7,672.8 L669.2,672.5 L670.6,672.7 L671.9,673.4 L673.2,674.6 L674.4,676.1 L675.6,677.8 L676.6,679.7 L677.6,681.7 L678.6,683.7 L679.4,685.7 L680.2,687.7 L680.9,689.7 L681.5,691.6 L682.1,693.6 L682.6,695.5 L683.1,697.5 L683.5,699.4 L683.9,701.3 L684.2,703.3 L684.6,705.2 L684.9,707.1 L685.2,709.1 L685.5,711.0 L685.8,712.9 L686.1,714.9 L686.4,716.8 L686.8,718.8 L687.1,720.8 L687.5,722.8 L687.9,724.7 L688.3,726.7 L688.7,728.7 L689.2,730.7 L689.6,732.7 L690.1,734.7 L690.6,736.7 L691.1,738.7 L691.6,740.7 L692.1,742.6 L692.6,744.6 L693.1,746.5 L693.6,748.4 L694.1,750.3 L694.6,752.1 L695.1,754.0 L695.6,755.8 L696.2,757.7 L696.7,759.6 L697.3,761.6 L697.9,763.7 L698.5,765.8 L699.2,767.8 L700.0,769.9 L700.9,771.8 L701.9,773.6 L703.1,775.1 L704.4,776.4 L706.0,777.5 L707.6,778.2 L709.4,778.8 L711.4,779.1 L713.3,779.3 L715.4,779.4 L717.5,779.5 L719.5,779.5 L721.6,779.5 L723.6,779.5 L725.6,779.5 L727.6,779.5 L729.6,779.6 L731.6,779.6 L733.6,779.6 L735.6,779.6 L737.6,779.7 L739.6,779.7 L741.6,779.8 L743.6,779.8 L745.6,779.8 L747.6,779.9 L749.6,780.0 L751.6,780.0 L753.6,780.1 L755.6,780.1 L757.6,780.2 L759.7,780.3 L761.7,780.4 L763.7,780.4 L765.7,780.5 L767.7,780.6 L769.7,780.7 L771.7,780.8 L773.7,780.8 L775.7,780.9 L777.7,781.0 L779.7,781.1 L781.7,781.2 L783.7,781.3 L785.7,781.4 L787.7,781.5 L789.7,781.5 L791.7,781.6 L793.7,781.7 L795.7,781.8 L797.7,781.9 L799.7,782.0 L801.8,782.1 L803.8,782.2 L805.8,782.2 L807.8,782.3 L809.8,782.4 L811.8,782.5 L813.8,782.6 L815.8,782.6 L817.8,782.7 L819.8,782.8 L821.8,782.8 L823.8,782.9 L825.8,783.0 L827.8,783.0 L829.8,783.1 L831.8,783.1 L833.9,783.2 L835.9,783.2 L837.9,783.3 L839.9,783.3 L841.9,783.3 L843.9,783.4 L845.9,783.4 L847.9,783.4 L849.9,783.4 L851.9,783.5 L853.9,783.5 L855.9,783.5 L857.9,783.5 L859.9,783.5 L861.9,783.5 L863.9,783.5 L866.0,783.5 L868.0,783.5 L870.0,783.5 L872.0,783.5 L874.0,783.4 L876.0,783.4 L878.0,783.4 L880.0,783.4 L882.0,783.4 L884.0,783.3 L886.0,783.3 L888.0,783.3 L890.0,783.3 L892.0,783.2 L894.0,783.2 L896.0,783.2 L898.1,783.1 L900.1,783.1 L902.1,783.0 L904.1,783.0 L906.1,783.0 L908.1,782.9 L910.1,782.9 L912.1,782.9 L914.1,782.8 L916.1,782.8 L918.1,782.7 L920.1,782.7 L922.1,782.6 L924.1,782.6 L926.1,782.6 L928.1,782.5 L930.2,782.5 L932.2,782.4 L934.2,782.4 L936.2,782.4 L938.2,782.3 L940.2,782.3 L942.2,782.3 L944.2,782.2" fill="none" stroke="#800080" stroke-width="2.8" stroke-linejoin="round" stroke-linecap="round"/>
<path d="M193.5,758.9 L194.6,760.7 L195.8,762.4 L197.1,763.9 L198.5,765.4 L199.9,766.8 L201.4,768.1 L203.0,769.3 L204.6,770.4 L206.3,771.3 L208.0,772.2 L209.8,773.1 L211.6,773.8 L213.5,774.4 L215.4,774.9 L217.3,775.4 L219.3,775.8 L221.2,776.1 L223.2,776.3 L225.2,776.4 L227.2,776.5 L229.3,776.4 L231.3,776.3 L233.3,776.2 L235.3,775.9 L237.3,775.6 L239.3,775.2 L241.2,774.8 L243.2,774.3 L245.1,773.7 L247.0,773.1 L248.9,772.4 L250.7,771.6 L252.5,770.8 L254.3,769.9 L256.1,769.0 L257.9,768.0 L259.6,767.0 L261.3,766.0 L263.0,764.9 L264.7,763.7 L266.3,762.6 L267.9,761.3 L269.5,760.1 L271.1,758.8 L272.6,757.5 L274.1,756.2 L275.6,754.8 L277.1,753.4 L278.5,752.0 L279.9,750.6 L281.3,749.2 L282.7,747.7 L284.0,746.2 L285.3,744.7 L286.6,743.3 L287.8,741.8 L289.1,740.2 L290.3,738.7 L291.6,737.2 L292.8,735.6 L294.1,734.1 L295.3,732.5 L296.6,730.9 L298.0,729.3 L299.3,727.7 L300.8,726.1 L302.2,724.5 L303.7,723.0 L305.3,721.7 L307.0,720.7 L308.7,720.1 L310.4,720.0 L312.2,720.3 L313.8,721.0 L315.3,722.1 L316.4,723.6 L317.4,725.3 L318.1,727.2 L318.7,729.2 L319.2,731.3 L319.6,733.5 L320.0,735.6 L320.4,737.6 L320.8,739.6 L321.2,741.6 L321.6,743.5 L322.0,745.5 L322.3,747.4 L322.7,749.3 L323.1,751.2 L323.4,753.0 L323.7,754.9 L324.1,756.9 L324.4,758.8 L324.7,760.7 L325.0,762.7 L325.3,764.8 L325.7,766.9 L326.0,769.2 L326.4,771.6 L326.8,773.9 L327.4,776.1 L328.3,778.0 L329.4,779.4 L330.8,780.5 L332.4,781.3 L334.1,781.8 L336.0,782.2 L338.0,782.4 L340.0,782.5 L342.0,782.7 L343.9,782.8 L345.9,782.9 L347.9,783.0 L349.9,783.1 L351.9,783.2 L353.9,783.3 L355.9,783.4 L357.9,783.5 L359.9,783.6 L361.9,783.7 L364.0,783.7 L366.0,783.8 L368.0,783.9 L370.0,783.9 L372.0,784.0 L374.0,784.0 L376.0,784.1 L378.0,784.1 L380.0,784.1 L382.0,784.2 L384.0,784.2 L386.0,784.2 L388.0,784.2 L390.0,784.2 L392.0,784.2 L394.0,784.3 L396.0,784.3 L398.0,784.3 L400.0,784.2 L402.0,784.2 L404.0,784.2 L406.0,784.2 L408.0,784.2 L410.0,784.1 L412.0,784.1 L414.1,784.1 L416.1,784.1 L418.1,784.0 L420.1,784.0 L422.1,783.9 L424.1,783.9 L426.1,783.8 L428.1,783.8 L430.1,783.7 L432.1,783.6 L434.1,783.6 L436.1,783.5 L438.1,783.4 L440.1,783.4 L442.1,783.3 L444.2,783.2 L446.2,783.1 L448.2,783.1 L450.2,783.0 L452.2,782.9 L454.2,782.8 L456.2,782.7 L458.2,782.6 L460.2,782.5 L462.2,782.4 L464.2,782.3 L466.2,782.2 L468.2,782.0 L470.2,781.9 L472.2,781.7 L474.2,781.6 L476.2,781.4 L478.2,781.2 L480.2,781.0 L482.2,780.8 L484.1,780.5 L486.1,780.3 L488.1,780.0 L490.1,779.7 L492.0,779.3 L494.0,779.0 L495.9,778.6 L497.9,778.2 L499.8,777.8 L501.7,777.3 L503.7,776.8 L505.6,776.2 L507.5,775.7 L509.4,775.1 L511.3,774.4 L513.2,773.8 L515.0,773.1 L516.9,772.3 L518.8,771.5 L520.6,770.7 L522.5,769.9 L524.3,769.0 L526.1,768.1 L528.0,767.3 L529.8,766.4 L531.7,765.6 L533.6,764.8 L535.4,764.1 L537.3,763.4 L539.3,762.8 L541.2,762.3 L543.1,761.8 L545.1,761.5 L547.1,761.1 L549.1,760.9 L551.1,760.6 L553.1,760.3 L555.1,760.1 L557.0,759.8 L559.0,759.4 L561.0,759.0 L562.9,758.6 L564.8,758.1 L566.7,757.5 L568.6,757.0 L570.5,756.4 L572.4,755.8 L574.3,755.2 L576.2,754.5 L578.1,753.8 L580.0,753.2 L581.8,752.4 L583.7,751.7 L585.6,751.0 L587.5,750.2 L589.3,749.4 L591.2,748.6 L593.0,747.7 L594.8,746.9 L596.6,746.0 L598.4,745.1 L600.2,744.1 L602.0,743.2 L603.7,742.2 L605.5,741.2 L607.2,740.1 L608.9,739.1 L610.6,738.0 L612.3,736.9 L613.9,735.8 L615.5,734.6 L617.1,733.4 L618.7,732.2 L620.3,731.0 L621.8,729.7 L623.3,728.4 L624.8,727.1 L626.2,725.8 L627.7,724.4 L629.1,723.0 L630.4,721.6 L631.7,720.1 L633.0,718.6 L634.3,717.1 L635.5,715.6 L636.7,714.0 L637.9,712.4 L639.0,710.8 L640.1,709.1 L641.2,707.4 L642.2,705.7 L643.2,704.0 L644.2,702.2 L645.2,700.4 L646.1,698.6 L647.0,696.8 L647.9,695.0 L648.8,693.2 L649.7,691.3 L650.6,689.4 L651.5,687.6 L652.4,685.7 L653.3,683.8 L654.2,681.9 L655.1,680.0 L656.0,678.2 L657.0,676.3 L658.0,674.5 L659.1,672.8 L660.3,671.2 L661.5,669.7 L662.8,668.3 L664.3,667.1 L665.9,666.0 L667.5,665.1 L669.2,664.7 L670.9,664.8 L672.5,665.4 L674.0,666.4 L675.3,667.6 L676.5,669.0 L677.5,670.6 L678.3,672.3 L679.1,674.2 L679.7,676.2 L680.3,678.3 L680.8,680.4 L681.2,682.6 L681.6,684.8 L682.0,687.0 L682.3,689.2 L682.7,691.3 L683.1,693.3 L683.5,695.3 L683.9,697.2 L684.3,699.1 L684.8,700.9 L685.2,702.7 L685.7,704.5 L686.1,706.4 L686.5,708.2 L686.9,710.1 L687.3,712.1 L687.6,714.1 L688.0,716.1 L688.3,718.1 L688.6,720.1 L688.9,722.2 L689.3,724.2 L689.6,726.3 L689.9,728.3 L690.2,730.4 L690.6,732.4 L690.9,734.4 L691.3,736.3 L691.7,738.3 L692.1,740.2 L692.5,742.1 L692.9,743.9 L693.4,745.8 L693.9,747.7 L694.4,749.5 L694.9,751.4 L695.4,753.3 L696.0,755.2 L696.5,757.2 L697.1,759.2 L697.7,761.2 L698.4,763.3 L699.0,765.4 L699.8,767.5 L700.6,769.5 L701.4,771.5 L702.4,773.2 L703.6,774.8 L704.8,776.1 L706.3,777.2 L707.9,777.9 L709.7,778.4 L711.5,778.7 L713.5,778.9 L715.5,778.9 L717.5,778.9 L719.6,778.9 L721.6,778.9 L723.7,778.9 L725.7,778.9 L727.7,778.8 L729.8,778.8 L731.8,778.8 L733.8,778.8 L735.8,778.9 L737.9,778.9 L739.9,778.9 L741.9,778.9 L743.9,779.0 L745.9,779.0 L747.9,779.0 L749.9,779.1 L751.9,779.1 L753.9,779.2 L755.9,779.2 L757.9,779.3 L759.9,779.4 L761.9,779.4 L763.9,779.5 L765.9,779.6 L767.9,779.6 L769.9,779.7 L771.9,779.8 L773.9,779.9 L775.9,780.0 L777.9,780.1 L779.9,780.2 L781.9,780.3 L783.9,780.4 L785.9,780.5 L787.8,780.6 L789.8,780.7 L791.8,780.8 L793.8,780.9 L795.8,781.0 L797.8,781.2 L799.9,781.3 L801.9,781.4 L803.9,781.5 L805.9,781.6 L807.9,781.7 L809.9,781.8 L811.9,782.0 L813.9,782.1 L815.9,782.2 L817.9,782.3 L819.9,782.4 L821.9,782.5 L823.9,782.6 L825.9,782.7 L827.9,782.8 L829.9,782.9 L831.9,783.0 L833.9,783.1 L835.9,783.1 L838.0,783.2 L840.0,783.3 L842.0,783.4 L844.0,783.4 L846.0,783.5 L848.0,783.5 L850.0,783.6 L852.0,783.6 L854.0,783.7 L856.0,783.7 L858.0,783.7 L860.0,783.8 L862.0,783.8 L864.0,783.8 L866.0,783.8 L868.0,783.9 L870.0,783.9 L872.0,783.9 L874.0,783.9 L876.0,783.9 L878.0,783.9 L880.0,783.9 L882.0,783.9 L884.1,783.9 L886.1,783.9 L888.1,783.9 L890.1,783.9 L892.1,783.9 L894.1,783.9 L896.1,783.9 L898.1,783.9 L900.1,783.9 L902.1,783.9 L904.1,783.8 L906.1,783.8 L908.1,783.8 L910.1,783.8 L912.1,783.8 L914.1,783.8 L916.1,783.8 L918.1,783.7 L920.1,783.7 L922.1,783.7 L924.1,783.7 L926.1,783.7 L928.2,783.7 L930.2,783.7 L932.2,783.7 L934.2,783.7 L936.2,783.7 L938.2,783.7 L940.2,783.7 L942.2,783.7 L944.2,783.7" fill="none" stroke="#ff8000" stroke-width="2.8" stroke-linejoin="round" stroke-linecap="round"/>
<g opacity="0.999" stroke="#000" stroke-width="0.2">
<rect x="84.3" y="8.2" width="932.7" height="811.0" fill="none" stroke="#000" stroke-width="2.5" stroke-linejoin="round"/>
<line x1="84.30" y1="413.50" x2="1017.00" y2="413.50" stroke="#000" stroke-width="2.5" stroke-linecap="butt"/>
<line x1="79.50" y1="413.52" x2="83.40" y2="413.52" stroke="#000" stroke-width="2.5" stroke-linecap="round"/>
<line x1="75.30" y1="379.75" x2="83.40" y2="379.75" stroke="#000" stroke-width="2.5" stroke-linecap="round"/>
<line x1="79.50" y1="345.98" x2="83.40" y2="345.98" stroke="#000" stroke-width="2.5" stroke-linecap="round"/>
<line x1="75.30" y1="312.20" x2="83.40" y2="312.20" stroke="#000" stroke-width="2.5" stroke-linecap="round"/>
<line x1="79.50" y1="278.43" x2="83.40" y2="278.43" stroke="#000" stroke-width="2.5" stroke-linecap="round"/>
<line x1="75.30" y1="244.65" x2="83.40" y2="244.65" stroke="#000" stroke-width="2.5" stroke-linecap="round"/>
<line x1="79.50" y1="210.88" x2="83.40" y2="210.88" stroke="#000" stroke-width="2.5" stroke-linecap="round"/>
<line x1="75.30" y1="177.10" x2="83.40" y2="177.10" stroke="#000" stroke-width="2.5" stroke-linecap="round"/>
<line x1="79.50" y1="143.33" x2="83.40" y2="143.33" stroke="#000" stroke-width="2.5" stroke-linecap="round"/>
<line x1="75.30" y1="109.55" x2="83.40" y2="109.55" stroke="#000" stroke-width="2.5" stroke-linecap="round"/>
<line x1="79.50" y1="75.78" x2="83.40" y2="75.78" stroke="#000" stroke-width="2.5" stroke-linecap="round"/>
<line x1="75.30" y1="42.00" x2="83.40" y2="42.00" stroke="#000" stroke-width="2.5" stroke-linecap="round"/>
<line x1="79.50" y1="8.23" x2="83.40" y2="8.23" stroke="#000" stroke-width="2.5" stroke-linecap="round"/>
<text transform="translate(69.30,385.55) scale(0.87,1)" font-size="20.8" text-anchor="end">0,0</text>
<text transform="translate(69.30,318.00) scale(0.87,1)" font-size="20.8" text-anchor="end">0,5</text>
<text transform="translate(69.30,250.45) scale(0.87,1)" font-size="20.8" text-anchor="end">1,0</text>
<text transform="translate(69.30,182.90) scale(0.87,1)" font-size="20.8" text-anchor="end">1,5</text>
<text transform="translate(69.30,115.35) scale(0.87,1)" font-size="20.8" text-anchor="end">2,0</text>
<text transform="translate(69.30,47.80) scale(0.87,1)" font-size="20.8" text-anchor="end">2,5</text>
<line x1="79.50" y1="819.20" x2="83.40" y2="819.20" stroke="#000" stroke-width="2.5" stroke-linecap="round"/>
<line x1="75.30" y1="785.40" x2="83.40" y2="785.40" stroke="#000" stroke-width="2.5" stroke-linecap="round"/>
<line x1="79.50" y1="751.60" x2="83.40" y2="751.60" stroke="#000" stroke-width="2.5" stroke-linecap="round"/>
<line x1="75.30" y1="717.80" x2="83.40" y2="717.80" stroke="#000" stroke-width="2.5" stroke-linecap="round"/>
<line x1="79.50" y1="684.00" x2="83.40" y2="684.00" stroke="#000" stroke-width="2.5" stroke-linecap="round"/>
<line x1="75.30" y1="650.20" x2="83.40" y2="650.20" stroke="#000" stroke-width="2.5" stroke-linecap="round"/>
<line x1="79.50" y1="616.40" x2="83.40" y2="616.40" stroke="#000" stroke-width="2.5" stroke-linecap="round"/>
<line x1="75.30" y1="582.60" x2="83.40" y2="582.60" stroke="#000" stroke-width="2.5" stroke-linecap="round"/>
<line x1="79.50" y1="548.80" x2="83.40" y2="548.80" stroke="#000" stroke-width="2.5" stroke-linecap="round"/>
<line x1="75.30" y1="515.00" x2="83.40" y2="515.00" stroke="#000" stroke-width="2.5" stroke-linecap="round"/>
<line x1="79.50" y1="481.20" x2="83.40" y2="481.20" stroke="#000" stroke-width="2.5" stroke-linecap="round"/>
<line x1="75.30" y1="447.40" x2="83.40" y2="447.40" stroke="#000" stroke-width="2.5" stroke-linecap="round"/>
<line x1="79.50" y1="413.60" x2="83.40" y2="413.60" stroke="#000" stroke-width="2.5" stroke-linecap="round"/>
<text transform="translate(69.30,791.20) scale(0.87,1)" font-size="20.8" text-anchor="end">0,0</text>
<text transform="translate(69.30,723.60) scale(0.87,1)" font-size="20.8" text-anchor="end">0,5</text>
<text transform="translate(69.30,656.00) scale(0.87,1)" font-size="20.8" text-anchor="end">1,0</text>
<text transform="translate(69.30,588.40) scale(0.87,1)" font-size="20.8" text-anchor="end">1,5</text>
<text transform="translate(69.30,520.80) scale(0.87,1)" font-size="20.8" text-anchor="end">2,0</text>
<text transform="translate(69.30,453.20) scale(0.87,1)" font-size="20.8" text-anchor="end">2,5</text>
<line x1="84.13" y1="414.40" x2="84.13" y2="419.10" stroke="#000" stroke-width="2.5" stroke-linecap="round"/>
<line x1="150.80" y1="414.40" x2="150.80" y2="424.10" stroke="#000" stroke-width="2.5" stroke-linecap="round"/>
<line x1="217.47" y1="414.40" x2="217.47" y2="419.10" stroke="#000" stroke-width="2.5" stroke-linecap="round"/>
<line x1="284.13" y1="414.40" x2="284.13" y2="424.10" stroke="#000" stroke-width="2.5" stroke-linecap="round"/>
<line x1="350.80" y1="414.40" x2="350.80" y2="419.10" stroke="#000" stroke-width="2.5" stroke-linecap="round"/>
<line x1="417.47" y1="414.40" x2="417.47" y2="424.10" stroke="#000" stroke-width="2.5" stroke-linecap="round"/>
<line x1="484.13" y1="414.40" x2="484.13" y2="419.10" stroke="#000" stroke-width="2.5" stroke-linecap="round"/>
<line x1="550.80" y1="414.40" x2="550.80" y2="424.10" stroke="#000" stroke-width="2.5" stroke-linecap="round"/>
<line x1="617.47" y1="414.40" x2="617.47" y2="419.10" stroke="#000" stroke-width="2.5" stroke-linecap="round"/>
<line x1="684.13" y1="414.40" x2="684.13" y2="424.10" stroke="#000" stroke-width="2.5" stroke-linecap="round"/>
<line x1="750.80" y1="414.40" x2="750.80" y2="419.10" stroke="#000" stroke-width="2.5" stroke-linecap="round"/>
<line x1="817.46" y1="414.40" x2="817.46" y2="424.10" stroke="#000" stroke-width="2.5" stroke-linecap="round"/>
<line x1="884.13" y1="414.40" x2="884.13" y2="419.10" stroke="#000" stroke-width="2.5" stroke-linecap="round"/>
<line x1="950.80" y1="414.40" x2="950.80" y2="424.10" stroke="#000" stroke-width="2.5" stroke-linecap="round"/>
<line x1="1017.46" y1="414.40" x2="1017.46" y2="419.10" stroke="#000" stroke-width="2.5" stroke-linecap="round"/>
<line x1="84.13" y1="820.10" x2="84.13" y2="824.80" stroke="#000" stroke-width="2.5" stroke-linecap="round"/>
<line x1="150.80" y1="820.10" x2="150.80" y2="829.80" stroke="#000" stroke-width="2.5" stroke-linecap="round"/>
<line x1="217.47" y1="820.10" x2="217.47" y2="824.80" stroke="#000" stroke-width="2.5" stroke-linecap="round"/>
<line x1="284.13" y1="820.10" x2="284.13" y2="829.80" stroke="#000" stroke-width="2.5" stroke-linecap="round"/>
<line x1="350.80" y1="820.10" x2="350.80" y2="824.80" stroke="#000" stroke-width="2.5" stroke-linecap="round"/>
<line x1="417.47" y1="820.10" x2="417.47" y2="829.80" stroke="#000" stroke-width="2.5" stroke-linecap="round"/>
<line x1="484.13" y1="820.10" x2="484.13" y2="824.80" stroke="#000" stroke-width="2.5" stroke-linecap="round"/>
<line x1="550.80" y1="820.10" x2="550.80" y2="829.80" stroke="#000" stroke-width="2.5" stroke-linecap="round"/>
<line x1="617.47" y1="820.10" x2="617.47" y2="824.80" stroke="#000" stroke-width="2.5" stroke-linecap="round"/>
<line x1="684.13" y1="820.10" x2="684.13" y2="829.80" stroke="#000" stroke-width="2.5" stroke-linecap="round"/>
<line x1="750.80" y1="820.10" x2="750.80" y2="824.80" stroke="#000" stroke-width="2.5" stroke-linecap="round"/>
<line x1="817.46" y1="820.10" x2="817.46" y2="829.80" stroke="#000" stroke-width="2.5" stroke-linecap="round"/>
<line x1="884.13" y1="820.10" x2="884.13" y2="824.80" stroke="#000" stroke-width="2.5" stroke-linecap="round"/>
<line x1="950.80" y1="820.10" x2="950.80" y2="829.80" stroke="#000" stroke-width="2.5" stroke-linecap="round"/>
<line x1="1017.46" y1="820.10" x2="1017.46" y2="824.80" stroke="#000" stroke-width="2.5" stroke-linecap="round"/>
<text transform="translate(151.30,852.60) scale(0.87,1)" font-size="20.8" text-anchor="middle">0</text>
<text transform="translate(284.63,852.60) scale(0.87,1)" font-size="20.8" text-anchor="middle">100</text>
<text transform="translate(417.97,852.60) scale(0.87,1)" font-size="20.8" text-anchor="middle">200</text>
<text transform="translate(551.30,852.60) scale(0.87,1)" font-size="20.8" text-anchor="middle">300</text>
<text transform="translate(684.63,852.60) scale(0.87,1)" font-size="20.8" text-anchor="middle">400</text>
<text transform="translate(817.96,852.60) scale(0.87,1)" font-size="20.8" text-anchor="middle">500</text>
<text transform="translate(951.30,852.60) scale(0.87,1)" font-size="20.8" text-anchor="middle">600</text>
<text transform="translate(550.40,886.20) scale(0.9,1)" font-size="25.2" text-anchor="middle">Temperature (°C)</text>
<text transform="translate(27.80,215.20) rotate(-90) scale(0.89,1.045)" font-size="24.7" text-anchor="middle" letter-spacing="1.9">Deriv. Weight (%/°C)</text>
<text transform="translate(27.10,611.20) rotate(-90) scale(0.89,1.045)" font-size="24.7" text-anchor="middle" letter-spacing="1.9">Deriv. Weight (%/°C)</text>
<text transform="translate(100.80,34.90) scale(0.875,1)" font-size="25.8" text-anchor="start">(a)</text>
<text transform="translate(103.50,457.00) scale(0.875,1)" font-size="25.6" text-anchor="start">(b)</text>
<line x1="840.00" y1="42.20" x2="892.50" y2="42.20" stroke="#000000" stroke-width="3.2" stroke-linecap="butt"/>
<text transform="translate(898.00,50.80) scale(0.865,1)" font-size="25.5" text-anchor="start">HMDI</text>
<line x1="840.00" y1="73.50" x2="892.50" y2="73.50" stroke="#ff0000" stroke-width="3.2" stroke-linecap="butt"/>
<text transform="translate(898.00,82.10) scale(0.865,1)" font-size="25.5" text-anchor="start">Chitosan</text>
<line x1="840.00" y1="104.80" x2="892.50" y2="104.80" stroke="#008000" stroke-width="3.2" stroke-linecap="butt"/>
<text transform="translate(898.00,113.40) scale(0.865,1)" font-size="25.5" text-anchor="start">CSAN-1</text>
<line x1="840.00" y1="136.10" x2="892.50" y2="136.10" stroke="#000080" stroke-width="3.2" stroke-linecap="butt"/>
<text transform="translate(898.00,144.70) scale(0.865,1)" font-size="25.5" text-anchor="start">CSAN-2</text>
<line x1="840.00" y1="167.40" x2="892.50" y2="167.40" stroke="#800080" stroke-width="3.2" stroke-linecap="butt"/>
<text transform="translate(898.00,176.00) scale(0.865,1)" font-size="25.5" text-anchor="start">CSAN-3</text>
<line x1="840.00" y1="198.70" x2="892.50" y2="198.70" stroke="#ff8000" stroke-width="3.2" stroke-linecap="butt"/>
<text transform="translate(898.00,207.30) scale(0.865,1)" font-size="25.5" text-anchor="start">CSAN-4</text>
<line x1="848.60" y1="464.20" x2="900.60" y2="464.20" stroke="#000000" stroke-width="3.2" stroke-linecap="butt"/>
<text transform="translate(906.30,472.80) scale(0.865,1)" font-size="25.5" text-anchor="start">HMDI</text>
<line x1="848.60" y1="495.50" x2="900.60" y2="495.50" stroke="#ff0000" stroke-width="3.2" stroke-linecap="butt"/>
<text transform="translate(906.30,504.10) scale(0.865,1)" font-size="25.5" text-anchor="start">Chitin</text>
<line x1="848.60" y1="526.80" x2="900.60" y2="526.80" stroke="#008000" stroke-width="3.2" stroke-linecap="butt"/>
<text transform="translate(906.30,535.40) scale(0.865,1)" font-size="25.5" text-anchor="start">CTIN-1</text>
<line x1="848.60" y1="558.10" x2="900.60" y2="558.10" stroke="#000080" stroke-width="3.2" stroke-linecap="butt"/>
<text transform="translate(906.30,566.70) scale(0.865,1)" font-size="25.5" text-anchor="start">CTIN-2</text>
<line x1="848.60" y1="589.40" x2="900.60" y2="589.40" stroke="#800080" stroke-width="3.2" stroke-linecap="butt"/>
<text transform="translate(906.30,598.00) scale(0.865,1)" font-size="25.5" text-anchor="start">CTIN-3</text>
<line x1="848.60" y1="620.70" x2="900.60" y2="620.70" stroke="#ff8000" stroke-width="3.2" stroke-linecap="butt"/>
<text transform="translate(906.30,629.30) scale(0.865,1)" font-size="25.5" text-anchor="start">CTIN-4</text>
</g>
</svg>
</body></html>
